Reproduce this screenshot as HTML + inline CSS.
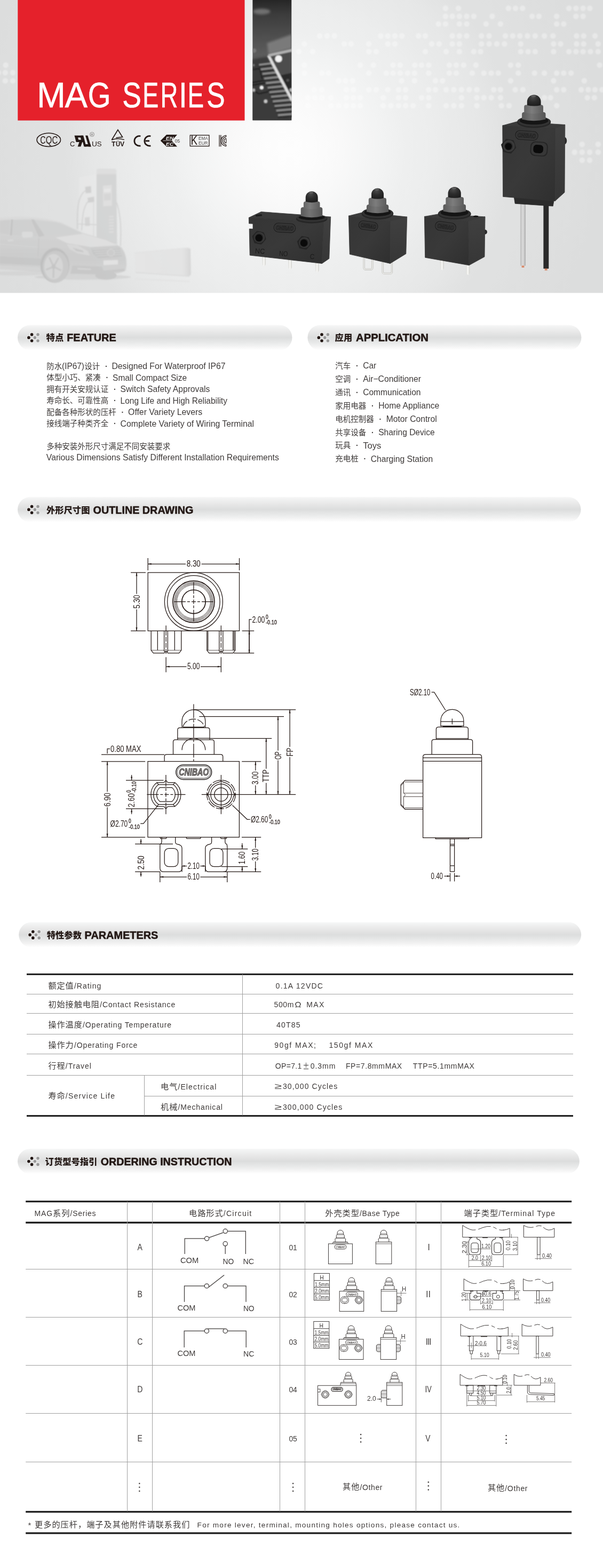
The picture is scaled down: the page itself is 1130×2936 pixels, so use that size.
<!DOCTYPE html>
<html lang="zh">
<head>
<meta charset="utf-8">
<title>MAG SERIES</title>
<style>
html,body{margin:0;padding:0;background:#fff;}
body{width:1130px;height:2936px;overflow:hidden;}
svg{display:block;will-change:transform;font-family:'Liberation Sans','Noto Sans CJK SC',sans-serif;}
text{white-space:pre;}
</style>
</head>
<body>
<svg width="1130" height="2936" viewBox="0 0 1130 2936">
<defs>

<radialGradient id="hbg" gradientUnits="userSpaceOnUse" cx="540" cy="280" r="620" fx="540" fy="280">
<stop offset="0" stop-color="#fdfdfd"/><stop offset="0.075" stop-color="#fcfcfc"/><stop offset="0.16" stop-color="#f9f9f9"/><stop offset="0.29" stop-color="#f2f3f3"/><stop offset="0.36" stop-color="#eeefef"/><stop offset="0.44" stop-color="#eceded"/><stop offset="0.48" stop-color="#eaebeb"/><stop offset="0.585" stop-color="#e6e7e7"/><stop offset="0.68" stop-color="#e0e1e1"/><stop offset="0.73" stop-color="#e0e1e1"/><stop offset="0.95" stop-color="#dcdddd"/><stop offset="1" stop-color="#dcdddd"/></radialGradient>
<linearGradient id="boot" x1="0" y1="0" x2="1" y2="0"><stop offset="0" stop-color="#5a5a5a"/><stop offset=".4" stop-color="#747474"/><stop offset="1" stop-color="#555"/></linearGradient>
<linearGradient id="boot2" x1="0" y1="0" x2="1" y2="0"><stop offset="0" stop-color="#666"/><stop offset=".4" stop-color="#7d7d7d"/><stop offset="1" stop-color="#5c5c5c"/></linearGradient>
<radialGradient id="dome" cx=".42" cy=".25" r=".8"><stop offset="0" stop-color="#4a4a4a"/><stop offset=".5" stop-color="#2c2c2c"/><stop offset="1" stop-color="#1c1c1c"/></radialGradient>
<linearGradient id="bodyF" x1="0" y1="0" x2="1" y2="1"><stop offset="0" stop-color="#353535"/><stop offset=".5" stop-color="#393939"/><stop offset="1" stop-color="#2f2f2f"/></linearGradient>
<linearGradient id="bodyS" x1="0" y1="0" x2="0" y2="1"><stop offset="0" stop-color="#404040"/><stop offset="1" stop-color="#363636"/></linearGradient>
<linearGradient id="pcb" x1="0" y1="0" x2="0" y2="1"><stop offset="0" stop-color="#262626"/><stop offset=".12" stop-color="#3c3c3c"/><stop offset=".3" stop-color="#4e4e4e"/><stop offset=".45" stop-color="#5c5c5c"/><stop offset=".6" stop-color="#555"/><stop offset=".85" stop-color="#474747"/><stop offset="1" stop-color="#3a3a3a"/></linearGradient>
<linearGradient id="pin" x1="0" y1="0" x2="1" y2="0"><stop offset="0" stop-color="#d8d8d4"/><stop offset=".5" stop-color="#fafaf8"/><stop offset="1" stop-color="#cfcfcb"/></linearGradient>
<linearGradient id="wire" x1="0" y1="0" x2="1" y2="0"><stop offset="0" stop-color="#bdbdbd"/><stop offset=".5" stop-color="#dcdcdc"/><stop offset="1" stop-color="#adadad"/></linearGradient>
<linearGradient id="car" x1="0" y1="0" x2="0" y2="1"><stop offset="0" stop-color="#d6d6d6"/><stop offset=".35" stop-color="#cdcdcd"/><stop offset=".7" stop-color="#c6c6c6"/><stop offset="1" stop-color="#cecece"/></linearGradient>
<linearGradient id="ac" x1="0" y1="0" x2="1" y2="0"><stop offset="0" stop-color="#e4e4e4"/><stop offset=".85" stop-color="#e1e1e1"/><stop offset=".95" stop-color="#d6d6d6"/><stop offset="1" stop-color="#cccccc"/></linearGradient>
<filter id="b1" x="-10%" y="-10%" width="120%" height="120%"><feGaussianBlur stdDeviation="0.8"/></filter>
<filter id="b2" x="-20%" y="-20%" width="140%" height="140%"><feGaussianBlur stdDeviation="2"/></filter>
<filter id="b3" x="-30%" y="-30%" width="160%" height="160%"><feGaussianBlur stdDeviation="4"/></filter>
<clipPath id="pcbclip"><rect x="473.2" y="0" width="73.3" height="225.5"/></clipPath>
<clipPath id="heroclip"><rect x="0" y="0" width="1130" height="548.5"/></clipPath>
<linearGradient id="pillg" x1="0" y1="0" x2="0" y2="1">
<stop offset="0" stop-color="#f8f8f8"/><stop offset=".05" stop-color="#f3f4f4"/><stop offset=".25" stop-color="#e9e9e9"/><stop offset=".5" stop-color="#dcdddd"/><stop offset=".7" stop-color="#e8e9e9"/><stop offset=".85" stop-color="#f3f3f3"/><stop offset="1" stop-color="#ffffff"/></linearGradient>
</defs>
<g id="hero" clip-path="url(#heroclip)">
<rect x="0.00" y="0.00" width="1130.00" height="549.00" fill="url(#hbg)" />
<g fill="#fff" opacity=".34" filter="url(#b1)">
<circle cx="834.93" cy="15.53" r="5.20" fill="#fff" />
<circle cx="859.09" cy="15.53" r="5.20" fill="#fff" />
<circle cx="952.84" cy="15.53" r="5.20" fill="#fff" />
<circle cx="966.07" cy="15.53" r="5.20" fill="#fff" />
<circle cx="979.30" cy="15.53" r="5.20" fill="#fff" />
<circle cx="1066.15" cy="15.53" r="5.20" fill="#fff" />
<circle cx="1079.38" cy="15.53" r="5.20" fill="#fff" />
<circle cx="1092.61" cy="15.53" r="5.20" fill="#fff" />
<circle cx="1105.27" cy="15.53" r="5.20" fill="#fff" />
<circle cx="834.93" cy="30.48" r="5.20" fill="#fff" />
<circle cx="847.59" cy="30.48" r="5.20" fill="#fff" />
<circle cx="860.82" cy="30.48" r="5.20" fill="#fff" />
<circle cx="874.62" cy="30.48" r="5.20" fill="#fff" />
<circle cx="887.85" cy="30.48" r="5.20" fill="#fff" />
<circle cx="922.36" cy="30.48" r="5.20" fill="#fff" />
<circle cx="997.13" cy="30.48" r="5.20" fill="#fff" />
<circle cx="1009.79" cy="30.48" r="5.20" fill="#fff" />
<circle cx="1043.15" cy="30.48" r="5.20" fill="#fff" />
<circle cx="1079.38" cy="30.48" r="5.20" fill="#fff" />
<circle cx="1092.61" cy="30.48" r="5.20" fill="#fff" />
<circle cx="821.70" cy="44.86" r="5.20" fill="#fff" />
<circle cx="834.93" cy="44.86" r="5.20" fill="#fff" />
<circle cx="860.82" cy="44.86" r="5.20" fill="#fff" />
<circle cx="874.62" cy="44.86" r="5.20" fill="#fff" />
<circle cx="910.86" cy="44.86" r="5.20" fill="#fff" />
<circle cx="937.89" cy="44.86" r="5.20" fill="#fff" />
<circle cx="1043.15" cy="44.86" r="5.20" fill="#fff" />
<circle cx="1056.38" cy="44.86" r="5.20" fill="#fff" />
<circle cx="599.11" cy="67.30" r="5.20" fill="#fff" />
<circle cx="612.92" cy="67.30" r="5.20" fill="#fff" />
<circle cx="626.72" cy="67.30" r="5.20" fill="#fff" />
<circle cx="713.57" cy="67.30" r="5.20" fill="#fff" />
<circle cx="726.80" cy="67.30" r="5.20" fill="#fff" />
<circle cx="740.03" cy="67.30" r="5.20" fill="#fff" />
<circle cx="753.26" cy="67.30" r="5.20" fill="#fff" />
<circle cx="784.32" cy="67.30" r="5.20" fill="#fff" />
<circle cx="796.97" cy="67.30" r="5.20" fill="#fff" />
<circle cx="847.59" cy="67.30" r="5.20" fill="#fff" />
<circle cx="860.82" cy="67.30" r="5.20" fill="#fff" />
<circle cx="874.62" cy="67.30" r="5.20" fill="#fff" />
<circle cx="902.23" cy="67.30" r="5.20" fill="#fff" />
<circle cx="916.61" cy="67.30" r="5.20" fill="#fff" />
<circle cx="947.09" cy="67.30" r="5.20" fill="#fff" />
<circle cx="960.90" cy="67.30" r="5.20" fill="#fff" />
<circle cx="974.13" cy="67.30" r="5.20" fill="#fff" />
<circle cx="988.51" cy="67.30" r="5.20" fill="#fff" />
<circle cx="1002.89" cy="67.30" r="5.20" fill="#fff" />
<circle cx="1020.14" cy="67.30" r="5.20" fill="#fff" />
<circle cx="1036.25" cy="67.30" r="5.20" fill="#fff" />
<circle cx="1080.53" cy="67.30" r="5.20" fill="#fff" />
<circle cx="1093.76" cy="67.30" r="5.20" fill="#fff" />
<circle cx="1115.04" cy="67.30" r="5.20" fill="#fff" />
<circle cx="570.35" cy="82.25" r="5.20" fill="#fff" />
<circle cx="645.13" cy="82.25" r="5.20" fill="#fff" />
<circle cx="657.78" cy="82.25" r="5.20" fill="#fff" />
<circle cx="691.14" cy="82.25" r="5.20" fill="#fff" />
<circle cx="726.80" cy="82.25" r="5.20" fill="#fff" />
<circle cx="740.03" cy="82.25" r="5.20" fill="#fff" />
<circle cx="809.05" cy="82.25" r="5.20" fill="#fff" />
<circle cx="822.86" cy="82.25" r="5.20" fill="#fff" />
<circle cx="847.59" cy="82.25" r="5.20" fill="#fff" />
<circle cx="860.82" cy="82.25" r="5.20" fill="#fff" />
<circle cx="902.23" cy="82.25" r="5.20" fill="#fff" />
<circle cx="916.61" cy="82.25" r="5.20" fill="#fff" />
<circle cx="930.99" cy="82.25" r="5.20" fill="#fff" />
<circle cx="945.37" cy="82.25" r="5.20" fill="#fff" />
<circle cx="975.85" cy="82.25" r="5.20" fill="#fff" />
<circle cx="1037.40" cy="82.25" r="5.20" fill="#fff" />
<circle cx="1050.62" cy="82.25" r="5.20" fill="#fff" />
<circle cx="1080.53" cy="82.25" r="5.20" fill="#fff" />
<circle cx="1093.76" cy="82.25" r="5.20" fill="#fff" />
<circle cx="1120.80" cy="82.25" r="5.20" fill="#fff" />
<circle cx="560.00" cy="96.63" r="5.20" fill="#fff" />
<circle cx="585.88" cy="96.63" r="5.20" fill="#fff" />
<circle cx="691.14" cy="96.63" r="5.20" fill="#fff" />
<circle cx="704.94" cy="96.63" r="5.20" fill="#fff" />
<circle cx="796.97" cy="96.63" r="5.20" fill="#fff" />
<circle cx="836.08" cy="96.63" r="5.20" fill="#fff" />
<circle cx="860.82" cy="96.63" r="5.20" fill="#fff" />
<circle cx="887.85" cy="96.63" r="5.20" fill="#fff" />
<circle cx="900.50" cy="96.63" r="5.20" fill="#fff" />
<circle cx="975.85" cy="96.63" r="5.20" fill="#fff" />
<circle cx="989.66" cy="96.63" r="5.20" fill="#fff" />
<circle cx="1002.89" cy="96.63" r="5.20" fill="#fff" />
<circle cx="1037.40" cy="96.63" r="5.20" fill="#fff" />
<circle cx="1066.15" cy="96.63" r="5.20" fill="#fff" />
<circle cx="1079.38" cy="96.63" r="5.20" fill="#fff" />
<circle cx="1092.61" cy="96.63" r="5.20" fill="#fff" />
<circle cx="1106.42" cy="96.63" r="5.20" fill="#fff" />
<circle cx="1120.80" cy="96.63" r="5.20" fill="#fff" />
<circle cx="570.35" cy="121.94" r="5.20" fill="#fff" />
<circle cx="675.04" cy="121.94" r="5.20" fill="#fff" />
<circle cx="699.77" cy="121.94" r="5.20" fill="#fff" />
<circle cx="736.58" cy="121.94" r="5.20" fill="#fff" />
<circle cx="749.81" cy="121.94" r="5.20" fill="#fff" />
<circle cx="777.42" cy="121.94" r="5.20" fill="#fff" />
<circle cx="790.07" cy="121.94" r="5.20" fill="#fff" />
<circle cx="803.30" cy="121.94" r="5.20" fill="#fff" />
<circle cx="841.84" cy="121.94" r="5.20" fill="#fff" />
<circle cx="855.06" cy="121.94" r="5.20" fill="#fff" />
<circle cx="868.87" cy="121.94" r="5.20" fill="#fff" />
<circle cx="891.88" cy="121.94" r="5.20" fill="#fff" />
<circle cx="956.87" cy="121.94" r="5.20" fill="#fff" />
<circle cx="971.25" cy="121.94" r="5.20" fill="#fff" />
<circle cx="1123.67" cy="121.94" r="5.20" fill="#fff" />
<circle cx="570.35" cy="136.89" r="5.20" fill="#fff" />
<circle cx="603.14" cy="136.89" r="5.20" fill="#fff" />
<circle cx="615.79" cy="136.89" r="5.20" fill="#fff" />
<circle cx="691.14" cy="136.89" r="5.20" fill="#fff" />
<circle cx="723.92" cy="136.89" r="5.20" fill="#fff" />
<circle cx="736.58" cy="136.89" r="5.20" fill="#fff" />
<circle cx="749.81" cy="136.89" r="5.20" fill="#fff" />
<circle cx="763.61" cy="136.89" r="5.20" fill="#fff" />
<circle cx="776.84" cy="136.89" r="5.20" fill="#fff" />
<circle cx="803.30" cy="136.89" r="5.20" fill="#fff" />
<circle cx="841.84" cy="136.89" r="5.20" fill="#fff" />
<circle cx="855.06" cy="136.89" r="5.20" fill="#fff" />
<circle cx="884.97" cy="136.89" r="5.20" fill="#fff" />
<circle cx="906.83" cy="136.89" r="5.20" fill="#fff" />
<circle cx="920.63" cy="136.89" r="5.20" fill="#fff" />
<circle cx="933.86" cy="136.89" r="5.20" fill="#fff" />
<circle cx="971.25" cy="136.89" r="5.20" fill="#fff" />
<circle cx="1001.73" cy="136.89" r="5.20" fill="#fff" />
<circle cx="1020.14" cy="136.89" r="5.20" fill="#fff" />
<circle cx="1043.15" cy="136.89" r="5.20" fill="#fff" />
<circle cx="1056.38" cy="136.89" r="5.20" fill="#fff" />
<circle cx="1070.18" cy="136.89" r="5.20" fill="#fff" />
<circle cx="634.77" cy="151.27" r="5.20" fill="#fff" />
<circle cx="647.43" cy="151.27" r="5.20" fill="#fff" />
<circle cx="660.66" cy="151.27" r="5.20" fill="#fff" />
<circle cx="752.68" cy="151.27" r="5.20" fill="#fff" />
<circle cx="776.84" cy="151.27" r="5.20" fill="#fff" />
<circle cx="815.95" cy="151.27" r="5.20" fill="#fff" />
<circle cx="829.18" cy="151.27" r="5.20" fill="#fff" />
<circle cx="956.87" cy="151.27" r="5.20" fill="#fff" />
<circle cx="1037.40" cy="151.27" r="5.20" fill="#fff" />
<circle cx="1094.91" cy="151.27" r="5.20" fill="#fff" />
<circle cx="588.76" cy="167.95" r="5.20" fill="#fff" />
<circle cx="603.14" cy="167.95" r="5.20" fill="#fff" />
<circle cx="649.15" cy="167.95" r="5.20" fill="#fff" />
<circle cx="662.38" cy="167.95" r="5.20" fill="#fff" />
<circle cx="691.14" cy="167.95" r="5.20" fill="#fff" />
<circle cx="704.94" cy="167.95" r="5.20" fill="#fff" />
<circle cx="726.80" cy="167.95" r="5.20" fill="#fff" />
<circle cx="746.93" cy="167.95" r="5.20" fill="#fff" />
<circle cx="760.16" cy="167.95" r="5.20" fill="#fff" />
<circle cx="803.30" cy="167.95" r="5.20" fill="#fff" />
<circle cx="815.95" cy="167.95" r="5.20" fill="#fff" />
<circle cx="836.08" cy="167.95" r="5.20" fill="#fff" />
<circle cx="850.46" cy="167.95" r="5.20" fill="#fff" />
<circle cx="864.84" cy="167.95" r="5.20" fill="#fff" />
<circle cx="879.22" cy="167.95" r="5.20" fill="#fff" />
<circle cx="893.60" cy="167.95" r="5.20" fill="#fff" />
<circle cx="925.24" cy="167.95" r="5.20" fill="#fff" />
<circle cx="937.89" cy="167.95" r="5.20" fill="#fff" />
<circle cx="965.50" cy="167.95" r="5.20" fill="#fff" />
<circle cx="979.88" cy="167.95" r="5.20" fill="#fff" />
<circle cx="1043.15" cy="167.95" r="5.20" fill="#fff" />
<circle cx="1056.38" cy="167.95" r="5.20" fill="#fff" />
<circle cx="1089.16" cy="167.95" r="5.20" fill="#fff" />
<circle cx="1102.39" cy="167.95" r="5.20" fill="#fff" />
<circle cx="1115.04" cy="167.95" r="5.20" fill="#fff" />
<circle cx="1128.27" cy="167.95" r="5.20" fill="#fff" />
<circle cx="577.26" cy="182.91" r="5.20" fill="#fff" />
<circle cx="589.91" cy="182.91" r="5.20" fill="#fff" />
<circle cx="603.14" cy="182.91" r="5.20" fill="#fff" />
<circle cx="620.39" cy="182.91" r="5.20" fill="#fff" />
<circle cx="649.15" cy="182.91" r="5.20" fill="#fff" />
<circle cx="662.38" cy="182.91" r="5.20" fill="#fff" />
<circle cx="675.04" cy="182.91" r="5.20" fill="#fff" />
<circle cx="718.17" cy="182.91" r="5.20" fill="#fff" />
<circle cx="746.93" cy="182.91" r="5.20" fill="#fff" />
<circle cx="760.16" cy="182.91" r="5.20" fill="#fff" />
<circle cx="790.07" cy="182.91" r="5.20" fill="#fff" />
<circle cx="803.30" cy="182.91" r="5.20" fill="#fff" />
<circle cx="864.84" cy="182.91" r="5.20" fill="#fff" />
<circle cx="893.60" cy="182.91" r="5.20" fill="#fff" />
<circle cx="906.83" cy="182.91" r="5.20" fill="#fff" />
<circle cx="920.63" cy="182.91" r="5.20" fill="#fff" />
<circle cx="937.89" cy="182.91" r="5.20" fill="#fff" />
<circle cx="1020.14" cy="182.91" r="5.20" fill="#fff" />
<circle cx="1031.64" cy="182.91" r="5.20" fill="#fff" />
<circle cx="1100.66" cy="182.91" r="5.20" fill="#fff" />
<circle cx="1113.89" cy="182.91" r="5.20" fill="#fff" />
<circle cx="577.26" cy="197.86" r="5.20" fill="#fff" />
<circle cx="620.39" cy="197.86" r="5.20" fill="#fff" />
<circle cx="634.77" cy="197.86" r="5.20" fill="#fff" />
<circle cx="649.15" cy="197.86" r="5.20" fill="#fff" />
<circle cx="662.38" cy="197.86" r="5.20" fill="#fff" />
<circle cx="675.04" cy="197.86" r="5.20" fill="#fff" />
<circle cx="718.17" cy="197.86" r="5.20" fill="#fff" />
<circle cx="732.55" cy="197.86" r="5.20" fill="#fff" />
<circle cx="746.93" cy="197.86" r="5.20" fill="#fff" />
<circle cx="760.16" cy="197.86" r="5.20" fill="#fff" />
<circle cx="773.97" cy="197.86" r="5.20" fill="#fff" />
<circle cx="803.30" cy="197.86" r="5.20" fill="#fff" />
<circle cx="836.08" cy="197.86" r="5.20" fill="#fff" />
<circle cx="850.46" cy="197.86" r="5.20" fill="#fff" />
<circle cx="864.84" cy="197.86" r="5.20" fill="#fff" />
<circle cx="893.60" cy="197.86" r="5.20" fill="#fff" />
<circle cx="939.62" cy="197.86" r="5.20" fill="#fff" />
<circle cx="954.00" cy="197.86" r="5.20" fill="#fff" />
<circle cx="1043.15" cy="197.86" r="5.20" fill="#fff" />
<circle cx="10.70" cy="122.00" r="5.20" fill="#fff" />
<circle cx="9.90" cy="136.00" r="5.20" fill="#fff" />
<circle cx="24.00" cy="136.00" r="5.20" fill="#fff" />
<circle cx="9.90" cy="151.40" r="5.20" fill="#fff" />
<circle cx="24.00" cy="151.40" r="5.20" fill="#fff" />
<circle cx="-3.00" cy="136.00" r="5.20" fill="#fff" />
<circle cx="1090.80" cy="270.20" r="5.20" fill="#fff" />
<circle cx="1120.90" cy="270.20" r="5.20" fill="#fff" />
<circle cx="1076.70" cy="285.00" r="5.20" fill="#fff" />
<circle cx="1090.80" cy="285.00" r="5.20" fill="#fff" />
<circle cx="1105.00" cy="285.00" r="5.20" fill="#fff" />
<circle cx="1120.90" cy="285.00" r="5.20" fill="#fff" />
<circle cx="1090.80" cy="300.00" r="5.20" fill="#fff" />
<circle cx="1105.00" cy="300.00" r="5.20" fill="#fff" />
</g>
<rect x="33.30" y="0.00" width="425.20" height="225.60" fill="#e5212b" />
<text y="200.70" font-size="66.6" fill="#fff" stroke="#fff" stroke-width="0.6"><tspan x="69.10" textLength="53.80" lengthAdjust="spacingAndGlyphs">M</tspan><tspan x="121.38" textLength="42.55" lengthAdjust="spacingAndGlyphs">A</tspan><tspan x="164.64" textLength="42.65" lengthAdjust="spacingAndGlyphs">G</tspan> <tspan x="229.28" textLength="35.57" lengthAdjust="spacingAndGlyphs">S</tspan><tspan x="267.22" textLength="29.90" lengthAdjust="spacingAndGlyphs">E</tspan><tspan x="300.57" textLength="32.84" lengthAdjust="spacingAndGlyphs">R</tspan><tspan x="335.35" textLength="15.19" lengthAdjust="spacingAndGlyphs">I</tspan><tspan x="351.45" textLength="30.52" lengthAdjust="spacingAndGlyphs">E</tspan><tspan x="387.16" textLength="34.41" lengthAdjust="spacingAndGlyphs">S</tspan></text>
<g clip-path="url(#pcbclip)">
<rect x="473.20" y="0.00" width="73.30" height="225.50" fill="url(#pcb)" />
<g filter="url(#b2)">
<ellipse cx="490.3" cy="21.7" rx="16" ry="5.5" fill="#6f6f6f"/>
<polygon points="500.4,80.7 546.5,64.6 546.5,90.8 503.4,101.9" fill="#7a7a7a" />
<polygon points="473.1,111.0 502.4,106.0 546.5,191.7 546.5,225.5 473.1,225.5" fill="#3b3b3b" />
</g>
<g filter="url(#b1)">
<polygon points="504.4,104.9 546.5,96.9 546.5,183.7" fill="#4d4d4d" />
<polygon points="524.6,141.3 546.5,136.2 546.5,183.7" fill="#2b2b2b" />
<line x1="485.2" y1="121.3" x2="510.5" y2="118.3" stroke="#8e8e8e" stroke-width="3.6"/>
<line x1="485.2" y1="125.1" x2="512.0" y2="122.3" stroke="#2a2a2a" stroke-width="2.4"/>
<line x1="488.5" y1="129.9" x2="514.7" y2="126.8" stroke="#8e8e8e" stroke-width="3.6"/>
<line x1="488.5" y1="133.7" x2="516.2" y2="130.9" stroke="#2a2a2a" stroke-width="2.4"/>
<line x1="491.7" y1="138.4" x2="518.9" y2="135.4" stroke="#8e8e8e" stroke-width="3.6"/>
<line x1="491.7" y1="142.3" x2="520.4" y2="139.5" stroke="#2a2a2a" stroke-width="2.4"/>
<line x1="494.9" y1="147.0" x2="523.2" y2="144.0" stroke="#8e8e8e" stroke-width="3.6"/>
<line x1="494.9" y1="150.9" x2="524.7" y2="148.0" stroke="#2a2a2a" stroke-width="2.4"/>
<line x1="498.1" y1="155.6" x2="527.4" y2="152.6" stroke="#8e8e8e" stroke-width="3.6"/>
<line x1="498.1" y1="159.4" x2="528.9" y2="156.6" stroke="#2a2a2a" stroke-width="2.4"/>
<line x1="501.4" y1="164.2" x2="531.6" y2="161.2" stroke="#8e8e8e" stroke-width="3.6"/>
<line x1="501.4" y1="168.0" x2="533.2" y2="165.2" stroke="#2a2a2a" stroke-width="2.4"/>
<line x1="504.6" y1="172.8" x2="535.9" y2="169.7" stroke="#8e8e8e" stroke-width="3.6"/>
<line x1="504.6" y1="176.6" x2="537.4" y2="173.8" stroke="#2a2a2a" stroke-width="2.4"/>
<line x1="507.8" y1="181.3" x2="540.1" y2="178.3" stroke="#8e8e8e" stroke-width="3.6"/>
<line x1="507.8" y1="185.2" x2="541.6" y2="182.3" stroke="#2a2a2a" stroke-width="2.4"/>
<line x1="511.1" y1="189.9" x2="544.4" y2="186.9" stroke="#8e8e8e" stroke-width="3.6"/>
<line x1="511.1" y1="193.7" x2="545.9" y2="190.9" stroke="#2a2a2a" stroke-width="2.4"/>
<line x1="514.3" y1="198.5" x2="548.6" y2="195.5" stroke="#8e8e8e" stroke-width="3.6"/>
<line x1="514.3" y1="202.3" x2="550.1" y2="199.5" stroke="#2a2a2a" stroke-width="2.4"/>
<line x1="517.5" y1="207.1" x2="552.8" y2="204.0" stroke="#8e8e8e" stroke-width="3.6"/>
<line x1="517.5" y1="210.9" x2="554.3" y2="208.1" stroke="#2a2a2a" stroke-width="2.4"/>
<line x1="520.7" y1="215.6" x2="557.1" y2="212.6" stroke="#8e8e8e" stroke-width="3.6"/>
<line x1="520.7" y1="219.5" x2="558.6" y2="216.6" stroke="#2a2a2a" stroke-width="2.4"/>
<path d="M473.1,154.4 L496.3,150.4 M473.1,159.4 L497.3,155.4 M478.2,171.5 L485.2,175.6 L503.4,171.5 L508.4,167.5 M474.1,130.2 L487.2,128.2 L491.3,148.3" fill="none" stroke="#1c1c1c" stroke-width="1.6" />
<line x1="502.9" y1="103.9" x2="547.8" y2="188.7" stroke="#dedede" stroke-width="5.2"/>
<line x1="502.9" y1="103.9" x2="547.8" y2="93.8" stroke="#b0b0b0" stroke-width="5"/>
<circle cx="522.06" cy="109.99" r="6.60" fill="#f4f4f4" />
<circle cx="490.27" cy="163.98" r="3.80" fill="#f0f0f0" />
<circle cx="497.84" cy="189.71" r="3.60" fill="#c4c4c4" />
<circle cx="475.14" cy="168.72" r="3.20" fill="#b5b5b5" />
<circle cx="545.77" cy="168.52" r="3.20" fill="#b9b9b9" />
<circle cx="476.15" cy="94.85" r="4.20" fill="#777" />
<circle cx="539.21" cy="150.35" r="2.60" fill="#555" />
<circle cx="475.14" cy="122.10" r="2.40" fill="#777" />
</g>
</g>
<g id="certs">
<ellipse cx="91.3" cy="261.9" rx="22.2" ry="12.6" fill="none" stroke="#231815" stroke-width="1.6"/>
<text y="268.90" font-size="19.6" fill="#231815"><tspan x="75.17" textLength="10.38" lengthAdjust="spacingAndGlyphs">C</tspan><tspan x="85.69" textLength="11.62" lengthAdjust="spacingAndGlyphs">Q</tspan><tspan x="97.45" textLength="10.72" lengthAdjust="spacingAndGlyphs">C</tspan></text>
<text y="274.00" font-size="12.6" fill="#231815"><tspan x="131.14" textLength="9.35" lengthAdjust="spacingAndGlyphs">C</tspan></text>
<polygon points="139.5,253.7 155.5,253.7 158.8,266.0 142.7,266.0" fill="#231815" />
<polygon points="146.0,257.4 150.9,257.4 152.1,261.8 147.3,261.8" fill="#e4e4e4" />
<polygon points="148.7,265.7 154.3,265.7 151.3,274.4 145.6,274.4" fill="#231815" />
<polygon points="151.8,253.7 156.1,253.7 161.6,274.4 157.4,274.4" fill="#231815" />
<polygon points="158.2,270.1 169.4,270.1 170.6,274.4 159.3,274.4" fill="#231815" />
<polygon points="160.0,253.7 164.3,253.7 170.6,274.4 166.2,274.4" fill="#231815" />
<circle cx="172.50" cy="251.60" r="4.00" fill="none" stroke="#6f6b6a" stroke-width="0.7" />
<text x="172.50" y="253.90" font-size="6.2" fill="#6f6b6a" text-anchor="middle">R</text>
<text y="274.00" font-size="12.6" fill="#231815"><tspan x="172.14" textLength="9.92" lengthAdjust="spacingAndGlyphs">U</tspan><tspan x="181.80" textLength="8.81" lengthAdjust="spacingAndGlyphs">S</tspan></text>
<path d="M209.5,261.8 L220.9,243.0 L229.5,256.6 L217.3,258.0" fill="none" stroke="#231815" stroke-width="1.7" stroke-linejoin="miter"/>
<path d="M209.1,262.0 C217.3,259.1 224.5,259.1 232.9,261.6" fill="none" stroke="#231815" stroke-width="1.5" />
<text y="274.30" font-size="12.2" fill="#231815" font-weight="bold"><tspan x="209.06" textLength="7.47" lengthAdjust="spacingAndGlyphs">T</tspan><tspan x="216.92" textLength="8.17" lengthAdjust="spacingAndGlyphs">U</tspan><tspan x="225.12" textLength="8.17" lengthAdjust="spacingAndGlyphs">V</tspan></text>
<rect x="219.20" y="263.60" width="1.20" height="1.20" fill="#231815" />
<rect x="221.80" y="263.60" width="1.20" height="1.20" fill="#231815" />
<path d="M263.4,255.0 A9.2,9.2 0 1 0 263.4,272.8" fill="none" stroke="#231815" stroke-width="2.8" />
<path d="M282.4,255.0 A9.2,9.2 0 1 0 282.4,272.8 M272.6,263.9 L280.0,263.9" fill="none" stroke="#231815" stroke-width="2.8" />
<polygon points="300.7,263.5 312.0,252.2 332.0,252.2 321.8,263.5 332.0,274.5 312.0,274.5" fill="#231815" />
<path d="M305.6,263.5 L324.0,263.5" fill="none" stroke="#e6e6e6" stroke-width="0.8" />
<text x="310.8" y="261.8" font-size="9.4" font-weight="bold" font-style="italic" fill="#ededed" textLength="14.6" lengthAdjust="spacingAndGlyphs" transform="rotate(0)">EN</text>
<text x="310.8" y="272.8" font-size="9.4" font-weight="bold" font-style="italic" fill="#ededed" textLength="14.6" lengthAdjust="spacingAndGlyphs">EC</text>
<text x="327.80" y="267.40" font-size="9.4" fill="#4a4645" textLength="9.40" lengthAdjust="spacingAndGlyphs">05</text>
<rect x="356.30" y="253.20" width="35.60" height="20.40" fill="none" stroke="#231815" stroke-width="1.3" />
<text y="271.40" font-size="23.2" fill="#231815"><tspan x="357.46" textLength="12.56" lengthAdjust="spacingAndGlyphs">K</tspan></text>
<text x="372.10" y="262.10" font-size="8.6" fill="#4a4645" textLength="17.40" lengthAdjust="spacingAndGlyphs">EMA</text>
<text x="372.10" y="271.00" font-size="8.6" fill="#4a4645" textLength="17.40" lengthAdjust="spacingAndGlyphs">EUR</text>
<path d="M411.1,252.7 L411.1,274.5 M413.8,252.7 L413.8,274.5" fill="none" stroke="#231815" stroke-width="1.3" />
<path d="M423.8,253.3 Q414.4,255.4 414.1,263.5 Q414.4,271.7 423.8,273.9" fill="none" stroke="#231815" stroke-width="1.3" />
<path d="M423.8,256.1 Q417.3,257.5 417.1,263.5 Q417.3,269.5 423.8,271.1" fill="none" stroke="#231815" stroke-width="1.3" />
<path d="M423.8,259.2 Q420.2,260.1 420.0,263.5 Q420.2,266.9 423.8,268.0" fill="none" stroke="#231815" stroke-width="1.3" />
<path d="M423.8,253.3 L423.8,256.1 M423.8,271.1 L423.8,273.9 M423.8,259.2 L423.8,268.0" fill="none" stroke="#231815" stroke-width="1.1" />
</g>
<g id="scenery" filter="url(#b1)" opacity=".74">
<polygon points="148.2,332.0 181.0,325.7 181.0,445.9 148.2,431.2" fill="#ebebeb" opacity=".55"/>
<path d="M181.0,319.7 Q181.0,316.3 185.0,316.3 L213.8,316.3 Q217.8,316.3 217.8,320.5 L219.3,457.4 L181.0,444.8 Z" fill="#cdcece" />
<polygon points="181.0,316.8 217.8,316.8 217.8,326.2 181.0,326.2" fill="#dfdfdf" opacity=".8"/>
<polygon points="192.8,347.8 209.4,346.2 209.9,385.3 193.4,386.6" fill="#dcdcdc" />
<polygon points="194.7,353.8 207.3,352.7 207.3,359.0 194.9,359.8" fill="#e6e6e6" />
<polygon points="194.7,363.0 207.3,361.9 207.3,374.8 194.9,375.6" fill="#d0d0d0" />
<polygon points="204.1,404.4 213.0,403.9 213.0,406.5 204.1,407.0" fill="#dadada" />
<polygon points="204.1,410.2 213.0,409.7 213.0,412.3 204.1,412.8" fill="#dadada" />
<polygon points="204.1,416.0 213.0,415.4 213.0,418.1 204.1,418.6" fill="#dadada" />
<polygon points="204.1,421.7 213.0,421.2 213.0,423.8 204.1,424.4" fill="#dadada" />
<polygon points="204.1,427.5 213.0,427.0 213.0,429.6 204.1,430.1" fill="#dadada" />
<polygon points="204.1,433.3 213.0,432.8 213.0,435.4 204.1,435.9" fill="#dadada" />
<path d="M161.4,356.4 C143.0,365.6 144.8,404.9 144.8,428.6" fill="none" stroke="#c6c6c6" stroke-width="1.5" />
<path d="M170.5,372.2 C153.5,384.0 154.8,410.2 153.0,431.2" fill="none" stroke="#c6c6c6" stroke-width="1.5" />
<path d="M218.3,378.7 C227.7,404.9 227.2,436.4 225.6,460.6" fill="none" stroke="#c6c6c6" stroke-width="1.5" />
<polygon points="159.5,349.8 170.5,348.5 171.1,360.9 160.6,361.9" fill="#c9c9c9" />
<polygon points="164.0,370.3 176.3,368.2 176.8,378.2 165.3,379.5" fill="#cbcbcb" />
<polygon points="158.7,407.6 167.9,406.3 168.4,422.8 159.5,423.3" fill="#d0d0d0" />
<path d="M146.4,419.4 L181.0,420.7" fill="none" stroke="#c8c8c8" stroke-width="1.4" />
<path d="M175.3,378.7 L175.3,441.7" fill="none" stroke="#d2d2d2" stroke-width="1.2" />
<polygon points="252.3,473.7 351.2,464.1 356.8,465.7 357.6,514.1 354.4,517.3 254.3,510.1" fill="url(#ac)" />
<path d="M252.3,473.7 L351.2,464.1 L356.8,465.7" fill="none" stroke="#dcdcdc" stroke-width="1" />
<path d="M254.3,510.1 L354.4,517.3" fill="none" stroke="#d2d2d2" stroke-width="1.2" />
<path d="M253.5,522.2 L355.2,527.0" fill="none" stroke="#e2e2e2" stroke-width="2" />
<ellipse cx="155.0" cy="518.7" rx="90" ry="5" fill="#c9c9c9" opacity=".7"/>
<ellipse cx="36.3" cy="511.9" rx="50" ry="4" fill="#cdcdcd" opacity=".7"/>
<path d="M-1.2,408.5 L29.1,406.3 C63.0,405.8 92.0,409.7 113.8,416.5 L155.0,436.8 C184.1,443.6 213.1,453.8 227.7,463.5 C234.4,472.7 237.3,482.3 236.9,496.9 L235.4,506.6 C225.2,513.3 198.6,515.8 179.2,514.8 L130.8,514.3 L77.5,509.5 L-1.2,504.1 Z" fill="url(#car)" />
<path d="M-1.2,408.5 L29.1,406.3 C63.0,405.8 92.0,409.7 113.8,416.5 L106.6,417.0 C79.9,410.2 55.7,409.2 -1.2,412.1 Z" fill="#d9d9d9" />
<polygon points="63.5,411.6 106.6,416.0 155.0,436.8 125.9,439.2 87.2,441.2 72.7,429.1" fill="#cccdcd" />
<polygon points="-1.2,413.3 19.4,411.6 17.0,438.8 -1.2,436.3" fill="#c9c9c9" />
<polygon points="24.2,411.6 56.9,411.1 69.0,429.1 69.0,442.4 23.0,440.0" fill="#cbcbcb" />
<polygon points="20.8,411.1 24.2,411.1 22.3,440.7 18.9,440.7" fill="#b9b9b9" />
<polygon points="58.1,410.7 63.5,411.1 83.6,441.2 72.7,443.6" fill="#bebebe" />
<polygon points="104.1,444.8 155.0,437.8 198.6,449.6 219.2,459.3 169.5,462.5 125.9,455.2" fill="#dedede" />
<path d="M41.2,436.3 Q41.2,434.4 44.8,434.1 L59.3,433.9 Q62.0,434.4 61.5,440.7 Q61.0,444.1 57.6,444.6 L43.6,445.0 Q40.7,443.6 41.2,436.3 Z" fill="#dadada" />
<polygon points="-1.2,479.9 77.5,484.8 77.5,496.9 -1.2,493.2" fill="#bfbfbf" />
<polygon points="-1.2,496.9 75.1,500.5 75.1,507.8 -1.2,504.1" fill="#d0d0d0" />
<path d="M-1.2,456.9 L72.7,463.0" fill="none" stroke="#d4d4d4" stroke-width="1" />
<path d="M72.7,446.0 L71.4,479.9" fill="none" stroke="#b9b9b9" stroke-width="1" />
<polygon points="14.5,448.4 24.2,448.0 25.2,451.3 15.0,452.1" fill="#d6d6d6" />
<ellipse cx="102.9" cy="496.9" rx="27.1" ry="32.7" fill="#b4b4b4"/>
<ellipse cx="104.1" cy="499.3" rx="24.2" ry="29.5" fill="#c3c3c3"/>
<ellipse cx="100.5" cy="499.3" rx="17.4" ry="23.7" fill="#d3d3d3"/>
<line x1="100.51" y1="499.30" x2="114.60" y2="506.50" stroke="#c0c0c0" stroke-width="3.4" />
<line x1="100.51" y1="499.30" x2="99.97" y2="520.28" stroke="#c0c0c0" stroke-width="3.4" />
<line x1="100.51" y1="499.30" x2="86.09" y2="505.07" stroke="#c0c0c0" stroke-width="3.4" />
<line x1="100.51" y1="499.30" x2="92.13" y2="481.88" stroke="#c0c0c0" stroke-width="3.4" />
<line x1="100.51" y1="499.30" x2="109.75" y2="482.76" stroke="#c0c0c0" stroke-width="3.4" />
<ellipse cx="100.5" cy="499.3" rx="3.6" ry="4.6" fill="#bcbcbc"/>
<polygon points="124.7,456.9 145.3,459.3 164.7,470.2 168.3,478.7 145.3,473.9 130.8,466.6" fill="#d6d6d6" />
<polygon points="135.6,463.5 155.0,469.0 157.4,472.7 142.9,470.2" fill="#c1c1c1" />
<polygon points="170.7,464.9 224.0,461.8 228.9,479.9 184.1,483.6 174.4,475.1" fill="#bcbcbc" />
<path d="M172.4,466.8 L224.8,463.9" fill="none" stroke="#d6d6d6" stroke-width="1" />
<path d="M175.3,471.0 L225.7,468.1" fill="none" stroke="#d6d6d6" stroke-width="1" />
<path d="M178.3,475.1 L226.7,472.2" fill="none" stroke="#d6d6d6" stroke-width="1" />
<path d="M181.2,479.2 L227.7,476.3" fill="none" stroke="#d6d6d6" stroke-width="1" />
<circle cx="207.80" cy="473.14" r="6.60" fill="#c4c4c4" stroke="#dadada" stroke-width="1" />
<polygon points="193.8,487.7 220.9,486.7 221.1,494.9 194.0,496.4" fill="#e2e2e2" />
<polygon points="135.6,496.9 191.3,499.3 193.8,506.6 232.5,502.9 233.7,507.8 179.2,513.8 132.0,512.6" fill="#c0c0c0" />
<polygon points="145.3,501.7 169.5,502.9 170.7,505.4 145.3,504.6" fill="#d2d2d2" />
<ellipse cx="198.6" cy="515.8" rx="20" ry="8" fill="#bfbfbf"/>
</g>
<g id="products">
<polygon points="491.2,480.0 497.9,480.0 497.9,495.1 495.7,499.1 491.8,496.1" fill="url(#pin)" />
<polygon points="540.1,486.0 546.8,486.0 546.8,500.9 544.7,504.9 540.7,501.9" fill="url(#pin)" />
<polygon points="590.9,490.0 597.6,490.0 597.6,506.6 595.5,510.6 591.5,507.6" fill="url(#pin)" />
<polygon points="466.3,407.5 489.3,396.6 619.7,406.1 606.3,415.2" fill="#3b3b3b" stroke="#3b3b3b" stroke-width="0.8" stroke-linejoin="round"/>
<polygon points="606.3,415.2 619.7,406.1 616.8,484.2 603.4,493.4" fill="url(#bodyS)" stroke="#393939" stroke-width="0.8" stroke-linejoin="round"/>
<polygon points="466.3,407.5 606.3,415.2 603.4,493.4 468.2,478.0 467.2,428.6 474.0,428.8 474.0,419.0 466.6,418.6" fill="url(#bodyF)" stroke="#353535" stroke-width="0.8" stroke-linejoin="round"/>
<polygon points="478.8,402.3 490.3,401.0 491.2,404.2 479.7,405.6" fill="#1c1c1c" />
<polygon points="497.8,447.6 493.7,452.4 489.5,457.0 483.3,455.9 477.2,454.5 475.1,448.6 473.2,442.6 477.3,437.8 481.5,433.2 487.7,434.3 493.8,435.7 495.9,441.6" fill="#262626" stroke="#262626" stroke-width="1.6" stroke-linejoin="round"/>
<circle cx="486.10" cy="444.70" r="10.00" fill="#3a3a3a" />
<circle cx="485.50" cy="445.10" r="8.30" fill="#2a2a2a" />
<circle cx="485.20" cy="445.40" r="6.70" fill="#0a0a0a" />
<polygon points="582.1,457.2 578.0,462.0 573.8,466.6 567.6,465.5 561.5,464.1 559.4,458.2 557.5,452.2 561.6,447.4 565.8,442.8 572.0,443.9 578.1,445.3 580.2,451.2" fill="#262626" stroke="#262626" stroke-width="1.6" stroke-linejoin="round"/>
<circle cx="570.40" cy="454.30" r="10.00" fill="#3a3a3a" />
<circle cx="569.80" cy="454.70" r="8.30" fill="#2a2a2a" />
<circle cx="569.50" cy="455.00" r="6.70" fill="#0a0a0a" />
<g transform="translate(533.4 426.7) rotate(3)"><rect x="-20.1" y="-8.2" width="40.3" height="16.4" rx="8.2" fill="#323232" stroke="#1b1b1b" stroke-width="1.3"/><rect x="-19.2" y="-7.3" width="38.5" height="14.6" rx="7.3" fill="none" stroke="#4a4a4a" stroke-width="0.5"/><text x="0" y="4.1" font-size="10.8" font-weight="bold" font-style="italic" text-anchor="middle" fill="#3d3d3d" stroke="#1b1b1b" stroke-width=".7" textLength="32.2" lengthAdjust="spacingAndGlyphs">CNIBAO</text></g>
<text x="477.80" y="474.20" font-size="13.4" fill="#1b1b1b" textLength="18.20" lengthAdjust="spacingAndGlyphs" transform="rotate(3 477.8 474.2)">NC</text>
<text x="522.90" y="479.00" font-size="13.4" fill="#1b1b1b" textLength="16.30" lengthAdjust="spacingAndGlyphs" transform="rotate(3 522.9 479)">NO</text>
<text x="580.40" y="484.80" font-size="13.4" fill="#1b1b1b" textLength="8.60" lengthAdjust="spacingAndGlyphs" transform="rotate(3 580.4 484.8)">C</text>
<ellipse cx="584.2" cy="409.0" rx="29.1" ry="8.0" fill="#2d2d2d"/>
<ellipse cx="584.2" cy="410.2" rx="29.1" ry="8.0" fill="#262626"/>
<ellipse cx="584.2" cy="408.4" rx="28.1" ry="7.0" fill="#333"/>
<ellipse cx="584.2" cy="407.2" rx="24.5" ry="4.8" fill="#151515"/>
<path d="M563.7,404.6 L563.7,391.8 Q563.7,388.6 566.9,388.0 Q584.0,386.8 601.1,388.0 Q604.3,388.6 604.3,391.8 L604.3,404.6 Q584.0,409.7 563.7,404.6 Z" fill="url(#boot)" />
<path d="M568.9,389.4 L568.9,380.4 Q568.9,377.8 571.5,377.2 Q584.2,376.4 596.9,377.2 Q599.5,377.8 599.5,380.4 L599.5,389.4 Q584.2,393.6 568.9,389.4 Z" fill="url(#boot2)" />
<path d="M572.7,377.6 L572.7,369.7 A11.5,11.5 0 0 1 595.7,369.7 L595.7,377.6 Q584.2,380.8 572.7,377.6 Z" fill="url(#dome)" />
<ellipse cx="583.2" cy="360.8" rx="4.1" ry="1.8" fill="#777" opacity=".5"/>
<rect x="682.10" y="478.00" width="15.80" height="26.30" fill="none" stroke="#bdbdb9" stroke-width="3.2" rx="2.6" />
<rect x="682.10" y="478.00" width="15.80" height="26.30" fill="none" stroke="#f1f1ee" stroke-width="1.5" rx="2.6" />
<rect x="717.20" y="486.00" width="17.20" height="26.00" fill="none" stroke="#bdbdb9" stroke-width="3.2" rx="2.6" />
<rect x="717.20" y="486.00" width="17.20" height="26.00" fill="none" stroke="#f1f1ee" stroke-width="1.5" rx="2.6" />
<polygon points="653.4,404.2 680.3,397.5 762.7,406.1 731.1,414.8" fill="#3b3b3b" stroke="#3b3b3b" stroke-width="0.8" stroke-linejoin="round"/>
<polygon points="731.1,414.8 762.7,406.1 760.8,475.2 731.1,493.4" fill="url(#bodyS)" stroke="#393939" stroke-width="0.8" stroke-linejoin="round"/>
<polygon points="653.4,404.2 731.1,414.8 731.1,493.4 655.3,476.1" fill="url(#bodyF)" stroke="#353535" stroke-width="0.8" stroke-linejoin="round"/>
<g transform="translate(690.2 422.8) rotate(8)"><rect x="-17.8" y="-7.8" width="35.5" height="15.6" rx="7.8" fill="#323232" stroke="#1b1b1b" stroke-width="1.3"/><rect x="-16.9" y="-6.9" width="33.7" height="13.8" rx="6.9" fill="none" stroke="#4a4a4a" stroke-width="0.5"/><text x="0" y="3.9" font-size="10.3" font-weight="bold" font-style="italic" text-anchor="middle" fill="#3d3d3d" stroke="#1b1b1b" stroke-width=".7" textLength="28.4" lengthAdjust="spacingAndGlyphs">CNIBAO</text></g>
<ellipse cx="707.5" cy="399.4" rx="29.7" ry="10.5" fill="#2d2d2d"/>
<ellipse cx="707.5" cy="400.6" rx="29.7" ry="10.5" fill="#262626"/>
<ellipse cx="707.5" cy="398.8" rx="28.7" ry="9.5" fill="#333"/>
<ellipse cx="707.5" cy="397.6" rx="25.1" ry="7.3" fill="#151515"/>
<path d="M687.0,396.6 L687.0,386.8 Q687.0,383.6 690.2,383.0 Q707.6,381.8 725.0,383.0 Q728.2,383.6 728.2,386.8 L728.2,396.6 Q707.6,401.7 687.0,396.6 Z" fill="url(#boot)" />
<path d="M690.8,385.0 L690.8,373.8 Q690.8,371.2 693.4,370.6 Q707.4,369.8 721.4,370.6 Q724.0,371.2 724.0,373.8 L724.0,385.0 Q707.4,389.2 690.8,385.0 Z" fill="url(#boot2)" />
<path d="M696.0,371.0 L696.0,364.0 A11.5,11.5 0 0 1 719.0,364.0 L719.0,371.0 Q707.5,374.2 696.0,371.0 Z" fill="url(#dome)" />
<ellipse cx="706.5" cy="355.1" rx="4.1" ry="1.8" fill="#777" opacity=".5"/>
<polygon points="824.5,484.0 832.0,484.0 832.0,502.2 829.5,506.2 825.1,503.2" fill="url(#pin)" />
<polygon points="873.0,492.0 880.4,492.0 880.4,511.3 877.9,515.3 873.6,512.3" fill="url(#pin)" />
<circle cx="908.60" cy="434.40" r="4.40" fill="#2a2a2a" />
<polygon points="795.4,405.4 823.6,400.5 909.0,405.9 877.2,414.5" fill="#3b3b3b" stroke="#3b3b3b" stroke-width="0.8" stroke-linejoin="round"/>
<polygon points="877.2,414.5 909.0,405.9 908.0,480.8 879.0,496.7" fill="url(#bodyS)" stroke="#393939" stroke-width="0.8" stroke-linejoin="round"/>
<polygon points="795.4,405.4 877.2,414.5 879.0,496.7 796.7,482.2" fill="url(#bodyF)" stroke="#353535" stroke-width="0.8" stroke-linejoin="round"/>
<ellipse cx="891.7" cy="404.9" rx="4.6" ry="1.5" fill="#111"/>
<g transform="translate(835.0 424.4) rotate(8)"><rect x="-19.3" y="-8.2" width="38.6" height="16.4" rx="8.2" fill="#323232" stroke="#1b1b1b" stroke-width="1.3"/><rect x="-18.4" y="-7.3" width="36.8" height="14.6" rx="7.3" fill="none" stroke="#4a4a4a" stroke-width="0.5"/><text x="0" y="4.1" font-size="10.8" font-weight="bold" font-style="italic" text-anchor="middle" fill="#3d3d3d" stroke="#1b1b1b" stroke-width=".7" textLength="30.9" lengthAdjust="spacingAndGlyphs">CNIBAO</text></g>
<ellipse cx="851.7" cy="399.9" rx="30.9" ry="10.0" fill="#2d2d2d"/>
<ellipse cx="851.7" cy="401.1" rx="30.9" ry="10.0" fill="#262626"/>
<ellipse cx="851.7" cy="399.3" rx="29.9" ry="9.0" fill="#333"/>
<ellipse cx="851.7" cy="398.1" rx="26.3" ry="6.8" fill="#151515"/>
<path d="M830.5,395.6 L830.5,386.4 Q830.5,383.2 833.7,382.6 Q851.8,381.4 869.8,382.6 Q873.0,383.2 873.0,386.4 L873.0,395.6 Q851.8,400.7 830.5,395.6 Z" fill="url(#boot)" />
<path d="M835.4,384.0 L835.4,372.2 Q835.4,369.6 838.0,369.0 Q852.2,368.2 866.4,369.0 Q869.0,369.6 869.0,372.2 L869.0,384.0 Q852.2,388.2 835.4,384.0 Z" fill="url(#boot2)" />
<path d="M839.6,369.2 L839.6,362.1 A12.1,12.1 0 0 1 863.8,362.1 L863.8,369.2 Q851.7,372.4 839.6,369.2 Z" fill="url(#dome)" />
<ellipse cx="850.7" cy="352.6" rx="4.4" ry="1.9" fill="#777" opacity=".5"/>
<rect x="975.00" y="382.00" width="10.00" height="115.60" fill="url(#wire)" />
<rect x="977.60" y="497.40" width="4.80" height="3.60" fill="#d98a6a" />
<rect x="1018.40" y="382.00" width="9.90" height="121.00" fill="#2a2a2a" />
<rect x="1020.80" y="502.80" width="4.80" height="3.60" fill="#d98a6a" />
<ellipse cx="1058.6" cy="263.5" rx="3.6" ry="6.4" fill="#2a2a2a"/>
<polygon points="962.8,366.0 965.2,381.2 1036.2,386.0 1038.7,372.0" fill="#2c2c2c" stroke="#2c2c2c" stroke-width="0.8" stroke-linejoin="round"/>
<polygon points="941.8,235.1 968.4,227.8 1058.8,233.5 1040.3,240.7" fill="#3b3b3b" stroke="#3b3b3b" stroke-width="0.8" stroke-linejoin="round"/>
<polygon points="1040.3,240.7 1058.8,233.5 1058.0,360.2 1040.3,376.3" fill="url(#bodyS)" stroke="#393939" stroke-width="0.8" stroke-linejoin="round"/>
<polygon points="941.8,235.1 1040.3,240.7 1040.3,376.3 942.6,368.3" fill="url(#bodyF)" stroke="#353535" stroke-width="0.8" stroke-linejoin="round"/>
<polygon points="966.4,276.5 962.1,281.7 957.4,286.7 950.7,285.5 944.1,284.0 941.8,277.6 939.8,271.1 944.1,265.9 948.8,260.9 955.5,262.1 962.1,263.6 964.4,270.0" fill="#262626" stroke="#262626" stroke-width="1.6" stroke-linejoin="round"/>
<circle cx="953.70" cy="273.40" r="10.88" fill="#3a3a3a" />
<circle cx="953.10" cy="273.80" r="8.00" fill="#2a2a2a" />
<circle cx="952.80" cy="274.10" r="6.40" fill="#0a0a0a" />
<rect x="993.60" y="265.20" width="33.00" height="27.40" fill="#262626" rx="9" transform="rotate(4 1010 279)"/>
<rect x="995.60" y="267.00" width="29.00" height="23.80" fill="#373737" rx="8" transform="rotate(4 1010 279)"/>
<rect x="999.40" y="271.40" width="18.60" height="15.40" fill="#0a0a0a" rx="6" transform="rotate(4 1010 279)"/>
<g transform="translate(987.0 253.6) rotate(4)"><rect x="-21.0" y="-8.1" width="42.0" height="16.2" rx="8.1" fill="#323232" stroke="#1b1b1b" stroke-width="1.3"/><rect x="-20.1" y="-7.2" width="40.2" height="14.4" rx="7.2" fill="none" stroke="#4a4a4a" stroke-width="0.5"/><text x="0" y="4.0" font-size="10.7" font-weight="bold" font-style="italic" text-anchor="middle" fill="#3d3d3d" stroke="#1b1b1b" stroke-width=".7" textLength="33.6" lengthAdjust="spacingAndGlyphs">CNIBAO</text></g>
<ellipse cx="1000.7" cy="227.8" rx="31.5" ry="10.5" fill="#2d2d2d"/>
<ellipse cx="1000.7" cy="229.0" rx="31.5" ry="10.5" fill="#262626"/>
<ellipse cx="1000.7" cy="227.2" rx="30.5" ry="9.5" fill="#333"/>
<ellipse cx="1000.7" cy="226.0" rx="26.9" ry="7.3" fill="#151515"/>
<path d="M978.1,223.6 L978.1,213.8 Q978.1,210.6 981.3,210.0 Q1000.3,208.8 1019.3,210.0 Q1022.5,210.6 1022.5,213.8 L1022.5,223.6 Q1000.3,228.7 978.1,223.6 Z" fill="url(#boot)" />
<path d="M982.2,210.8 L982.2,199.8 Q982.2,197.2 984.8,196.6 Q1000.1,195.8 1015.4,196.6 Q1018.0,197.2 1018.0,199.8 L1018.0,210.8 Q1000.1,215.0 982.2,210.8 Z" fill="url(#boot2)" />
<path d="M987.8,197.0 L987.8,190.3 A12.9,12.9 0 0 1 1013.6,190.3 L1013.6,197.0 Q1000.7,200.2 987.8,197.0 Z" fill="url(#dome)" />
<ellipse cx="999.7" cy="180.0" rx="4.6" ry="2.1" fill="#777" opacity=".5"/>
</g>
</g>
<g id="sections">
<rect x="33.00" y="608.60" width="514.50" height="47.00" fill="url(#pillg)" rx="23.5" transform="translate(0 0)"/>
<circle cx="53.90" cy="632.20" r="3.60" fill="#fff" opacity=".75"/>
<circle cx="59.60" cy="626.40" r="3.60" fill="#fff" opacity=".75"/>
<circle cx="59.60" cy="638.00" r="3.60" fill="#fff" opacity=".75"/>
<circle cx="65.30" cy="632.20" r="3.60" fill="#fff" opacity=".75"/>
<circle cx="71.00" cy="626.40" r="3.60" fill="#fff" opacity=".75"/>
<circle cx="71.00" cy="638.00" r="3.60" fill="#fff" opacity=".75"/>
<circle cx="53.90" cy="632.20" r="2.85" fill="#231815" />
<circle cx="59.60" cy="626.40" r="2.85" fill="#231815" />
<circle cx="59.60" cy="638.00" r="2.85" fill="#231815" />
<circle cx="65.30" cy="632.20" r="2.85" fill="#9a9a9a" />
<circle cx="71.00" cy="626.40" r="2.85" fill="#9a9a9a" />
<circle cx="71.00" cy="638.00" r="2.85" fill="#9a9a9a" />
<text x="86.60" y="638.20" font-size="16.3" fill="#231815" font-weight="900">特点</text>
<text x="125.20" y="639.10" font-size="19.7" fill="#231815" font-weight="bold" textLength="92.60" lengthAdjust="spacingAndGlyphs" stroke="#231815" stroke-width="0.55" stroke-linejoin="round">FEATURE</text>
<rect x="576.40" y="608.60" width="513.10" height="47.00" fill="url(#pillg)" rx="23.5" transform="translate(0 0)"/>
<circle cx="597.30" cy="632.20" r="3.60" fill="#fff" opacity=".75"/>
<circle cx="603.00" cy="626.40" r="3.60" fill="#fff" opacity=".75"/>
<circle cx="603.00" cy="638.00" r="3.60" fill="#fff" opacity=".75"/>
<circle cx="608.70" cy="632.20" r="3.60" fill="#fff" opacity=".75"/>
<circle cx="614.40" cy="626.40" r="3.60" fill="#fff" opacity=".75"/>
<circle cx="614.40" cy="638.00" r="3.60" fill="#fff" opacity=".75"/>
<circle cx="597.30" cy="632.20" r="2.85" fill="#231815" />
<circle cx="603.00" cy="626.40" r="2.85" fill="#231815" />
<circle cx="603.00" cy="638.00" r="2.85" fill="#231815" />
<circle cx="608.70" cy="632.20" r="2.85" fill="#9a9a9a" />
<circle cx="614.40" cy="626.40" r="2.85" fill="#9a9a9a" />
<circle cx="614.40" cy="638.00" r="2.85" fill="#9a9a9a" />
<text x="627.60" y="638.20" font-size="16.3" fill="#231815" font-weight="900">应用</text>
<text x="667.00" y="639.10" font-size="19.7" fill="#231815" font-weight="bold" textLength="135.80" lengthAdjust="spacingAndGlyphs" stroke="#231815" stroke-width="0.55" stroke-linejoin="round">APPLICATION</text>
<rect x="33.00" y="930.60" width="1055.60" height="47.00" fill="url(#pillg)" rx="23.5" transform="translate(0 0)"/>
<circle cx="53.90" cy="954.20" r="3.60" fill="#fff" opacity=".75"/>
<circle cx="59.60" cy="948.40" r="3.60" fill="#fff" opacity=".75"/>
<circle cx="59.60" cy="960.00" r="3.60" fill="#fff" opacity=".75"/>
<circle cx="65.30" cy="954.20" r="3.60" fill="#fff" opacity=".75"/>
<circle cx="71.00" cy="948.40" r="3.60" fill="#fff" opacity=".75"/>
<circle cx="71.00" cy="960.00" r="3.60" fill="#fff" opacity=".75"/>
<circle cx="53.90" cy="954.20" r="2.85" fill="#231815" />
<circle cx="59.60" cy="948.40" r="2.85" fill="#231815" />
<circle cx="59.60" cy="960.00" r="2.85" fill="#231815" />
<circle cx="65.30" cy="954.20" r="2.85" fill="#9a9a9a" />
<circle cx="71.00" cy="948.40" r="2.85" fill="#9a9a9a" />
<circle cx="71.00" cy="960.00" r="2.85" fill="#9a9a9a" />
<text x="87.00" y="961.20" font-size="16.3" fill="#231815" font-weight="900">外形尺寸图</text>
<text x="174.60" y="962.10" font-size="19.7" fill="#231815" font-weight="bold" textLength="187.80" lengthAdjust="spacingAndGlyphs" stroke="#231815" stroke-width="0.55" stroke-linejoin="round">OUTLINE DRAWING</text>
<rect x="35.20" y="1726.80" width="1054.00" height="47.00" fill="url(#pillg)" rx="23.5" transform="translate(0 0)"/>
<circle cx="56.10" cy="1750.40" r="3.60" fill="#fff" opacity=".75"/>
<circle cx="61.80" cy="1744.60" r="3.60" fill="#fff" opacity=".75"/>
<circle cx="61.80" cy="1756.20" r="3.60" fill="#fff" opacity=".75"/>
<circle cx="67.50" cy="1750.40" r="3.60" fill="#fff" opacity=".75"/>
<circle cx="73.20" cy="1744.60" r="3.60" fill="#fff" opacity=".75"/>
<circle cx="73.20" cy="1756.20" r="3.60" fill="#fff" opacity=".75"/>
<circle cx="56.10" cy="1750.40" r="2.85" fill="#231815" />
<circle cx="61.80" cy="1744.60" r="2.85" fill="#231815" />
<circle cx="61.80" cy="1756.20" r="2.85" fill="#231815" />
<circle cx="67.50" cy="1750.40" r="2.85" fill="#9a9a9a" />
<circle cx="73.20" cy="1744.60" r="2.85" fill="#9a9a9a" />
<circle cx="73.20" cy="1756.20" r="2.85" fill="#9a9a9a" />
<text x="87.80" y="1757.00" font-size="16.3" fill="#231815" font-weight="900">特性参数</text>
<text x="158.60" y="1757.90" font-size="19.7" fill="#231815" font-weight="bold" textLength="137.80" lengthAdjust="spacingAndGlyphs" stroke="#231815" stroke-width="0.55" stroke-linejoin="round">PARAMETERS</text>
<rect x="33.00" y="2151.00" width="1052.90" height="47.00" fill="url(#pillg)" rx="23.5" transform="translate(0 0)"/>
<circle cx="53.90" cy="2174.60" r="3.60" fill="#fff" opacity=".75"/>
<circle cx="59.60" cy="2168.80" r="3.60" fill="#fff" opacity=".75"/>
<circle cx="59.60" cy="2180.40" r="3.60" fill="#fff" opacity=".75"/>
<circle cx="65.30" cy="2174.60" r="3.60" fill="#fff" opacity=".75"/>
<circle cx="71.00" cy="2168.80" r="3.60" fill="#fff" opacity=".75"/>
<circle cx="71.00" cy="2180.40" r="3.60" fill="#fff" opacity=".75"/>
<circle cx="53.90" cy="2174.60" r="2.85" fill="#231815" />
<circle cx="59.60" cy="2168.80" r="2.85" fill="#231815" />
<circle cx="59.60" cy="2180.40" r="2.85" fill="#231815" />
<circle cx="65.30" cy="2174.60" r="2.85" fill="#9a9a9a" />
<circle cx="71.00" cy="2168.80" r="2.85" fill="#9a9a9a" />
<circle cx="71.00" cy="2180.40" r="2.85" fill="#9a9a9a" />
<text x="84.60" y="2180.80" font-size="16.3" fill="#231815" font-weight="900">订货型号指引</text>
<text x="188.80" y="2181.70" font-size="19.7" fill="#231815" font-weight="bold" textLength="245.60" lengthAdjust="spacingAndGlyphs" stroke="#231815" stroke-width="0.55" stroke-linejoin="round">ORDERING INSTRUCTION</text>
<text x="87.20" y="690.85" font-size="14.5" fill="#3e3a39">防水</text>
<text x="116.00" y="691.05" font-size="15.7" fill="#3e3a39" textLength="42.00" lengthAdjust="spacingAndGlyphs">(IP67)</text>
<text x="158.20" y="690.85" font-size="14.5" fill="#3e3a39">设计</text>
<text x="198.80" y="690.85" font-size="20.5" fill="#3e3a39" text-anchor="middle">·</text>
<text x="209.40" y="691.05" font-size="15.7" fill="#3e3a39" textLength="213.10" lengthAdjust="spacingAndGlyphs">Designed For Waterproof IP67</text>
<text x="87.20" y="712.35" font-size="14.5" fill="#3e3a39">体型小巧、紧凑</text>
<text x="200.50" y="712.35" font-size="20.5" fill="#3e3a39" text-anchor="middle">·</text>
<text x="211.10" y="712.55" font-size="15.7" fill="#3e3a39" textLength="138.90" lengthAdjust="spacingAndGlyphs">Small Compact Size</text>
<text x="87.20" y="733.85" font-size="14.5" fill="#3e3a39">拥有开关安规认证</text>
<text x="215.00" y="733.85" font-size="20.5" fill="#3e3a39" text-anchor="middle">·</text>
<text x="225.60" y="734.05" font-size="15.7" fill="#3e3a39" textLength="167.80" lengthAdjust="spacingAndGlyphs">Switch Safety Approvals</text>
<text x="87.20" y="755.35" font-size="14.5" fill="#3e3a39">寿命长、可靠性高</text>
<text x="215.00" y="755.35" font-size="20.5" fill="#3e3a39" text-anchor="middle">·</text>
<text x="225.60" y="755.55" font-size="15.7" fill="#3e3a39" textLength="200.30" lengthAdjust="spacingAndGlyphs">Long Life and High Reliability</text>
<text x="87.20" y="776.85" font-size="14.5" fill="#3e3a39">配备各种形状的压杆</text>
<text x="229.50" y="776.85" font-size="20.5" fill="#3e3a39" text-anchor="middle">·</text>
<text x="240.10" y="777.05" font-size="15.7" fill="#3e3a39" textLength="139.00" lengthAdjust="spacingAndGlyphs">Offer Variety Levers</text>
<text x="87.20" y="798.35" font-size="14.5" fill="#3e3a39">接线端子种类齐全</text>
<text x="215.00" y="798.35" font-size="20.5" fill="#3e3a39" text-anchor="middle">·</text>
<text x="225.60" y="798.55" font-size="15.7" fill="#3e3a39" textLength="250.40" lengthAdjust="spacingAndGlyphs">Complete Variety of Wiring Terminal</text>
<text x="87.20" y="841.20" font-size="14.5" fill="#3e3a39">多种安装外形尺寸满足不同安装要求</text>
<text x="86.80" y="862.40" font-size="15.7" fill="#3e3a39" textLength="436.00" lengthAdjust="spacingAndGlyphs">Various Dimensions Satisfy Different Installation Requirements</text>
<text x="628.20" y="689.90" font-size="14.5" fill="#3e3a39">汽车</text>
<text x="669.00" y="689.90" font-size="20.5" fill="#3e3a39" text-anchor="middle">·</text>
<text x="680.20" y="690.10" font-size="15.7" fill="#3e3a39" textLength="25.00" lengthAdjust="spacingAndGlyphs">Car</text>
<text x="628.20" y="714.83" font-size="14.5" fill="#3e3a39">空调</text>
<text x="669.00" y="714.83" font-size="20.5" fill="#3e3a39" text-anchor="middle">·</text>
<text x="680.20" y="715.03" font-size="15.7" fill="#3e3a39" textLength="108.80" lengthAdjust="spacingAndGlyphs">Air−Conditioner</text>
<text x="628.20" y="739.76" font-size="14.5" fill="#3e3a39">通讯</text>
<text x="669.00" y="739.76" font-size="20.5" fill="#3e3a39" text-anchor="middle">·</text>
<text x="680.20" y="739.96" font-size="15.7" fill="#3e3a39" textLength="108.30" lengthAdjust="spacingAndGlyphs">Communication</text>
<text x="628.20" y="764.69" font-size="14.5" fill="#3e3a39">家用电器</text>
<text x="698.00" y="764.69" font-size="20.5" fill="#3e3a39" text-anchor="middle">·</text>
<text x="709.20" y="764.89" font-size="15.7" fill="#3e3a39" textLength="114.10" lengthAdjust="spacingAndGlyphs">Home Appliance</text>
<text x="628.20" y="789.62" font-size="14.5" fill="#3e3a39">电机控制器</text>
<text x="712.50" y="789.62" font-size="20.5" fill="#3e3a39" text-anchor="middle">·</text>
<text x="723.70" y="789.82" font-size="15.7" fill="#3e3a39" textLength="95.00" lengthAdjust="spacingAndGlyphs">Motor Control</text>
<text x="628.20" y="814.55" font-size="14.5" fill="#3e3a39">共享设备</text>
<text x="698.00" y="814.55" font-size="20.5" fill="#3e3a39" text-anchor="middle">·</text>
<text x="709.20" y="814.75" font-size="15.7" fill="#3e3a39" textLength="105.50" lengthAdjust="spacingAndGlyphs">Sharing Device</text>
<text x="628.20" y="839.48" font-size="14.5" fill="#3e3a39">玩具</text>
<text x="669.00" y="839.48" font-size="20.5" fill="#3e3a39" text-anchor="middle">·</text>
<text x="680.20" y="839.68" font-size="15.7" fill="#3e3a39" textLength="34.20" lengthAdjust="spacingAndGlyphs">Toys</text>
<text x="628.20" y="864.41" font-size="14.5" fill="#3e3a39">充电桩</text>
<text x="683.50" y="864.41" font-size="20.5" fill="#3e3a39" text-anchor="middle">·</text>
<text x="694.70" y="864.61" font-size="15.7" fill="#3e3a39" textLength="116.60" lengthAdjust="spacingAndGlyphs">Charging Station</text>
</g>
<g id="drawing">
<g id="topview">
<rect x="277.20" y="1072.10" width="171.30" height="109.20" fill="none" stroke="#231815" stroke-width="1.25" />
<line x1="277.20" y1="1045.10" x2="277.20" y2="1068.00" stroke="#231815" stroke-width="1.25" />
<line x1="448.50" y1="1045.10" x2="448.50" y2="1068.00" stroke="#231815" stroke-width="1.25" />
<line x1="277.20" y1="1056.00" x2="348.00" y2="1056.00" stroke="#231815" stroke-width="1.25" />
<line x1="377.60" y1="1056.00" x2="448.50" y2="1056.00" stroke="#231815" stroke-width="1.25" />
<polygon points="277.2,1056.0 283.7,1054.5 283.7,1057.5" fill="#231815" />
<polygon points="448.5,1056.0 442.0,1054.5 442.0,1057.5" fill="#231815" />
<text x="349.80" y="1061.30" font-size="16.4" fill="#231815" textLength="26.00" lengthAdjust="spacingAndGlyphs">8.30</text>
<line x1="245.10" y1="1072.10" x2="273.00" y2="1072.10" stroke="#231815" stroke-width="1.25" />
<line x1="245.10" y1="1181.30" x2="273.00" y2="1181.30" stroke="#231815" stroke-width="1.25" />
<line x1="256.00" y1="1072.10" x2="256.00" y2="1112.00" stroke="#231815" stroke-width="1.25" />
<line x1="256.00" y1="1141.00" x2="256.00" y2="1181.30" stroke="#231815" stroke-width="1.25" />
<polygon points="256.0,1072.1 254.5,1078.6 257.5,1078.6" fill="#231815" />
<polygon points="256.0,1181.3 254.5,1174.8 257.5,1174.8" fill="#231815" />
<text x="261.65" y="1139.60" font-size="16.4" fill="#231815" textLength="25.80" lengthAdjust="spacingAndGlyphs" transform="rotate(-90 261.65 1139.60)">5.30</text>
<circle cx="362.90" cy="1126.70" r="54.50" fill="none" stroke="#231815" stroke-width="1.25" />
<circle cx="362.90" cy="1126.70" r="49.20" fill="none" stroke="#231815" stroke-width="1.25" />
<circle cx="362.90" cy="1126.70" r="39.00" fill="none" stroke="#231815" stroke-width="1.7" />
<circle cx="362.90" cy="1126.70" r="36.60" fill="none" stroke="#231815" stroke-width="0.7" />
<circle cx="362.90" cy="1126.70" r="34.90" fill="none" stroke="#231815" stroke-width="0.7" />
<circle cx="362.90" cy="1126.70" r="33.20" fill="none" stroke="#231815" stroke-width="0.7" />
<circle cx="362.90" cy="1126.70" r="31.50" fill="none" stroke="#231815" stroke-width="0.7" />
<circle cx="362.90" cy="1126.70" r="22.20" fill="none" stroke="#231815" stroke-width="1.7" />
<line x1="325.90" y1="1126.70" x2="399.90" y2="1126.70" stroke="#231815" stroke-width="1.25" stroke-dasharray="22 3 5 3 8 3 5 3 22"/>
<line x1="362.90" y1="1089.70" x2="362.90" y2="1163.70" stroke="#231815" stroke-width="1.25" stroke-dasharray="22 3 5 3 8 3 5 3 22"/>
<path d="M283.2,1181.3 L283.2,1217.6 L287.4,1222.9 L307.70000000000005,1222.9 L309.3,1220.4 L312.90000000000003,1220.4 L314.5,1222.9 L335.5,1222.9 L339.7,1217.6 L339.7,1181.3" fill="none" stroke="#231815" stroke-width="1.25" />
<path d="M283.2,1217.6 L307.70000000000005,1217.6 L309.3,1220.4 M312.90000000000003,1220.4 L314.5,1217.6 L339.7,1217.6" fill="none" stroke="#231815" stroke-width="0.7" />
<line x1="295.30" y1="1181.30" x2="295.30" y2="1217.60" stroke="#231815" stroke-width="1.25" />
<line x1="307.60" y1="1181.30" x2="307.60" y2="1220.40" stroke="#231815" stroke-width="1.25" />
<line x1="314.40" y1="1181.30" x2="314.40" y2="1220.40" stroke="#231815" stroke-width="1.25" />
<line x1="327.30" y1="1181.30" x2="327.30" y2="1217.60" stroke="#231815" stroke-width="1.25" />
<line x1="311.10" y1="1171.20" x2="311.10" y2="1181.00" stroke="#231815" stroke-width="1.25" />
<line x1="311.10" y1="1181.00" x2="311.10" y2="1226.40" stroke="#231815" stroke-width="1.25" stroke-dasharray="9 2.4"/>
<path d="M387.7,1181.3 L387.7,1217.6 L391.9,1222.9 L410.90000000000003,1222.9 L412.5,1220.4 L416.1,1220.4 L417.7,1222.9 L436.6,1222.9 L440.8,1217.6 L440.8,1181.3" fill="none" stroke="#231815" stroke-width="1.25" />
<path d="M387.7,1217.6 L410.90000000000003,1217.6 L412.5,1220.4 M416.1,1220.4 L417.7,1217.6 L440.8,1217.6" fill="none" stroke="#231815" stroke-width="0.7" />
<line x1="389.60" y1="1181.30" x2="389.60" y2="1217.60" stroke="#231815" stroke-width="1.25" />
<line x1="410.80" y1="1181.30" x2="410.80" y2="1220.40" stroke="#231815" stroke-width="1.25" />
<line x1="417.80" y1="1181.30" x2="417.80" y2="1220.40" stroke="#231815" stroke-width="1.25" />
<line x1="436.60" y1="1181.30" x2="436.60" y2="1217.60" stroke="#231815" stroke-width="1.25" />
<line x1="438.60" y1="1181.30" x2="438.60" y2="1217.60" stroke="#231815" stroke-width="1.25" />
<line x1="414.30" y1="1171.20" x2="414.30" y2="1181.00" stroke="#231815" stroke-width="1.25" />
<line x1="414.30" y1="1181.00" x2="414.30" y2="1226.40" stroke="#231815" stroke-width="1.25" stroke-dasharray="9 2.4"/>
<line x1="311.10" y1="1230.50" x2="311.10" y2="1258.80" stroke="#231815" stroke-width="1.25" />
<line x1="414.30" y1="1230.50" x2="414.30" y2="1258.80" stroke="#231815" stroke-width="1.25" />
<line x1="311.10" y1="1248.30" x2="349.40" y2="1248.30" stroke="#231815" stroke-width="1.25" />
<line x1="376.00" y1="1248.30" x2="414.30" y2="1248.30" stroke="#231815" stroke-width="1.25" />
<polygon points="311.1,1248.3 317.6,1246.8 317.6,1249.8" fill="#231815" />
<polygon points="414.3,1248.3 407.8,1246.8 407.8,1249.8" fill="#231815" />
<text x="351.00" y="1253.40" font-size="16.4" fill="#231815" textLength="23.40" lengthAdjust="spacingAndGlyphs">5.00</text>
<line x1="453.60" y1="1181.30" x2="476.20" y2="1181.30" stroke="#231815" stroke-width="1.25" />
<line x1="438.00" y1="1222.90" x2="476.20" y2="1222.90" stroke="#231815" stroke-width="1.25" />
<path d="M467.1,1222.9 L467.1,1159.9 L471.6,1159.9" fill="none" stroke="#231815" stroke-width="1.25" />
<polygon points="467.1,1181.3 465.6,1187.8 468.6,1187.8" fill="#231815" />
<polygon points="467.1,1222.9 465.6,1216.4 468.6,1216.4" fill="#231815" />
<line x1="467.10" y1="1181.30" x2="467.10" y2="1222.90" stroke="#231815" stroke-width="1.25" />
<text x="472.50" y="1165.60" font-size="16.4" fill="#231815" textLength="23.70" lengthAdjust="spacingAndGlyphs">2.00</text>
<text x="497.90" y="1158.80" font-size="10.8" fill="#231815" textLength="4.60" lengthAdjust="spacingAndGlyphs" stroke="#231815" stroke-width="0.35">0</text>
<text x="498.10" y="1169.20" font-size="10.8" fill="#231815" textLength="20.60" lengthAdjust="spacingAndGlyphs" stroke="#231815" stroke-width="0.35">-0.10</text>
</g>
<g id="frontview">
<rect x="277.00" y="1425.70" width="171.40" height="141.90" fill="none" stroke="#231815" stroke-width="1.25" />
<path d="M308.09999999999997,1425.6 L308.09999999999997,1417 Q308.09999999999997,1412.7 312.5,1412.7 L413.29999999999995,1412.7 Q417.7,1412.7 417.7,1417 L417.7,1425.6" fill="none" stroke="#231815" stroke-width="1.25" />
<path d="M324.5,1412.7 L324.5,1389 Q324.5,1385 328.9,1385 L396.9,1385 Q401.29999999999995,1385 401.29999999999995,1389 L401.29999999999995,1412.7" fill="none" stroke="#231815" stroke-width="1.25" />
<path d="M332.79999999999995,1385 L332.79999999999995,1367 Q332.79999999999995,1362.7 337.29999999999995,1362.7 L388.5,1362.7 Q393.0,1362.7 393.0,1367 L393.0,1385" fill="none" stroke="#231815" stroke-width="1.25" />
<line x1="332.80" y1="1382.30" x2="393.00" y2="1382.30" stroke="#231815" stroke-width="1.25" />
<path d="M341.0,1362.2 L341.0,1350.6 A21.9,21.7 0 0 1 384.79999999999995,1350.6 L384.79999999999995,1362.2" fill="none" stroke="#231815" stroke-width="1.25" />
<line x1="342.90" y1="1361.60" x2="382.90" y2="1361.60" stroke="#231815" stroke-width="1.7" />
<path d="M342.5,1361 A21.5,21.5 0 0 1 383.29999999999995,1361" fill="none" stroke="#231815" stroke-width="1.25" stroke-dasharray="14 3"/>
<path d="M341.0,1404.4 A21.9,21.9 0 0 1 384.79999999999995,1404.4" fill="none" stroke="#231815" stroke-width="1.25" />
<line x1="362.90" y1="1318.40" x2="362.90" y2="1425.70" stroke="#231815" stroke-width="1.25" stroke-dasharray="26 3 5 3"/>
<line x1="362.90" y1="1328.90" x2="554.20" y2="1328.90" stroke="#231815" stroke-width="1.25" />
<line x1="373.30" y1="1341.70" x2="532.00" y2="1341.70" stroke="#231815" stroke-width="1.25" />
<line x1="393.30" y1="1382.60" x2="509.20" y2="1382.60" stroke="#231815" stroke-width="1.25" />
<line x1="453.20" y1="1425.90" x2="489.20" y2="1425.90" stroke="#231815" stroke-width="1.25" />
<line x1="377.80" y1="1487.70" x2="554.20" y2="1487.70" stroke="#231815" stroke-width="1.25" />
<line x1="543.10" y1="1328.90" x2="543.10" y2="1398.40" stroke="#231815" stroke-width="1.25" />
<line x1="543.10" y1="1417.60" x2="543.10" y2="1487.70" stroke="#231815" stroke-width="1.25" />
<polygon points="543.1,1328.9 541.6,1335.4 544.6,1335.4" fill="#231815" />
<polygon points="543.1,1487.7 541.6,1481.2 544.6,1481.2" fill="#231815" />
<text x="548.75" y="1416.30" font-size="16.4" fill="#231815" textLength="16.40" lengthAdjust="spacingAndGlyphs" transform="rotate(-90 548.75 1416.30)">FP</text>
<line x1="521.00" y1="1341.70" x2="521.00" y2="1405.60" stroke="#231815" stroke-width="1.25" />
<line x1="521.00" y1="1423.60" x2="521.00" y2="1487.70" stroke="#231815" stroke-width="1.25" />
<polygon points="521.0,1341.7 519.5,1348.2 522.5,1348.2" fill="#231815" />
<polygon points="521.0,1487.7 519.5,1481.2 522.5,1481.2" fill="#231815" />
<text x="526.65" y="1422.30" font-size="16.4" fill="#231815" textLength="15.10" lengthAdjust="spacingAndGlyphs" transform="rotate(-90 526.65 1422.30)">OP</text>
<line x1="498.80" y1="1382.60" x2="498.80" y2="1439.40" stroke="#231815" stroke-width="1.25" />
<line x1="498.80" y1="1466.00" x2="498.80" y2="1487.70" stroke="#231815" stroke-width="1.25" />
<polygon points="498.8,1382.6 497.3,1389.1 500.3,1389.1" fill="#231815" />
<polygon points="498.8,1487.7 497.3,1481.2 500.3,1481.2" fill="#231815" />
<text x="504.45" y="1464.60" font-size="16.4" fill="#231815" textLength="23.60" lengthAdjust="spacingAndGlyphs" transform="rotate(-90 504.45 1464.60)">TTP</text>
<line x1="478.80" y1="1425.90" x2="478.80" y2="1442.80" stroke="#231815" stroke-width="1.25" />
<line x1="478.80" y1="1470.40" x2="478.80" y2="1487.70" stroke="#231815" stroke-width="1.25" />
<polygon points="478.8,1425.9 477.3,1432.4 480.3,1432.4" fill="#231815" />
<polygon points="478.8,1487.7 477.3,1481.2 480.3,1481.2" fill="#231815" />
<text x="484.45" y="1469.00" font-size="16.4" fill="#231815" textLength="24.60" lengthAdjust="spacingAndGlyphs" transform="rotate(-90 484.45 1469.00)">3.00</text>
<line x1="190.00" y1="1412.80" x2="308.00" y2="1412.80" stroke="#231815" stroke-width="1.25" />
<line x1="190.00" y1="1425.90" x2="272.10" y2="1425.90" stroke="#231815" stroke-width="1.25" />
<path d="M201.1,1411 L201.1,1402.1 L206,1402.1" fill="none" stroke="#231815" stroke-width="1.25" />
<text x="207.10" y="1407.80" font-size="16.4" fill="#231815" textLength="57.30" lengthAdjust="spacingAndGlyphs">0.80 MAX</text>
<line x1="190.00" y1="1567.60" x2="272.10" y2="1567.60" stroke="#231815" stroke-width="1.25" />
<line x1="201.10" y1="1425.90" x2="201.10" y2="1482.60" stroke="#231815" stroke-width="1.25" />
<line x1="201.10" y1="1511.60" x2="201.10" y2="1567.60" stroke="#231815" stroke-width="1.25" />
<polygon points="201.1,1425.9 199.6,1432.4 202.6,1432.4" fill="#231815" />
<polygon points="201.1,1567.6 199.6,1561.1 202.6,1561.1" fill="#231815" />
<text x="206.75" y="1510.20" font-size="16.4" fill="#231815" textLength="25.80" lengthAdjust="spacingAndGlyphs" transform="rotate(-90 206.75 1510.20)">6.90</text>
<line x1="236.00" y1="1461.10" x2="306.50" y2="1461.10" stroke="#231815" stroke-width="1.25" />
<line x1="236.00" y1="1514.30" x2="306.50" y2="1514.30" stroke="#231815" stroke-width="1.25" />
<line x1="246.60" y1="1451.00" x2="246.60" y2="1461.10" stroke="#231815" stroke-width="1.25" />
<line x1="246.60" y1="1514.30" x2="246.60" y2="1524.40" stroke="#231815" stroke-width="1.25" />
<polygon points="246.6,1461.1 245.1,1454.6 248.1,1454.6" fill="#231815" />
<polygon points="246.6,1514.3 245.1,1520.8 248.1,1520.8" fill="#231815" />
<text x="252.25" y="1511.40" font-size="16.4" fill="#231815" textLength="26.00" lengthAdjust="spacingAndGlyphs" transform="rotate(-90 252.25 1511.40)">2.60</text>
<text x="245.00" y="1484.00" font-size="10.8" fill="#231815" stroke="#231815" stroke-width="0.35" textLength="4.6" lengthAdjust="spacingAndGlyphs" transform="rotate(-90 245.00 1484.00)">0</text>
<text x="255.40" y="1483.80" font-size="10.8" fill="#231815" stroke="#231815" stroke-width="0.35" textLength="20.6" lengthAdjust="spacingAndGlyphs" transform="rotate(-90 255.40 1483.80)">-0.10</text>
<path d="M294.10,1465.30 L306.30,1465.30 Q308.30,1465.30 309.30,1462.70 Q310.90,1459.90 312.50,1462.70 Q313.50,1465.30 315.50,1465.30 L327.70,1465.30 A28.0,28.0 0 0 1 327.70,1510.10 L315.50,1510.10 Q313.50,1510.10 312.50,1512.70 Q310.90,1515.50 309.30,1512.70 Q308.30,1510.10 306.30,1510.10 L294.10,1510.10 A28.0,28.0 0 0 1 294.10,1465.30 Z" fill="none" stroke="#231815" stroke-width="1.25" />
<path d="M297.03,1469.10 L324.77,1469.10 A23.2,23.2 0 0 1 324.77,1506.30 L297.03,1506.30 A23.2,23.2 0 0 1 297.03,1469.10 Z" fill="none" stroke="#231815" stroke-width="1.25" />
<path d="M299.52,1474.60 L322.28,1474.60 A17.35,17.35 0 0 1 322.28,1500.80 L299.52,1500.80 A17.35,17.35 0 0 1 299.52,1474.60 Z" fill="none" stroke="#231815" stroke-width="1.25" />
<line x1="294.10" y1="1465.30" x2="297.03" y2="1469.10" stroke="#231815" stroke-width="1.25" />
<line x1="294.10" y1="1510.10" x2="297.03" y2="1506.30" stroke="#231815" stroke-width="1.25" />
<line x1="327.70" y1="1465.30" x2="324.77" y2="1469.10" stroke="#231815" stroke-width="1.25" />
<line x1="327.70" y1="1510.10" x2="324.77" y2="1506.30" stroke="#231815" stroke-width="1.25" />
<line x1="275.40" y1="1487.70" x2="347.50" y2="1487.70" stroke="#231815" stroke-width="1.25" stroke-dasharray="22 3 5 3 8 3 5 3 30"/>
<line x1="310.90" y1="1451.00" x2="310.90" y2="1524.40" stroke="#231815" stroke-width="1.25" stroke-dasharray="22 3 5 3 8 3 5 3 30"/>
<path d="M263.2,1542.1 L268.8,1542.1 L295.4,1508.8" fill="none" stroke="#231815" stroke-width="1.25" />
<text x="206.60" y="1548.00" font-size="16.4" fill="#231815" textLength="32.60" lengthAdjust="spacingAndGlyphs">Ø2.70</text>
<text x="241.00" y="1541.20" font-size="10.8" fill="#231815" textLength="4.60" lengthAdjust="spacingAndGlyphs" stroke="#231815" stroke-width="0.35">0</text>
<text x="241.20" y="1551.60" font-size="10.8" fill="#231815" textLength="20.60" lengthAdjust="spacingAndGlyphs" stroke="#231815" stroke-width="0.35">-0.10</text>
<circle cx="414.40" cy="1487.70" r="26.80" fill="none" stroke="#231815" stroke-width="1.25" stroke-dasharray="15 3.2"/>
<circle cx="414.40" cy="1487.70" r="19.50" fill="none" stroke="#231815" stroke-width="1.25" />
<circle cx="414.40" cy="1487.70" r="12.70" fill="none" stroke="#231815" stroke-width="1.25" />
<path d="M414.40,1460.90 Q415.60,1464.10 419.40,1464.80 A23.45,23.45 0 0 1 437.30,1482.70 Q438.00,1486.50 441.20,1487.70 M441.20,1487.70 Q438.00,1488.90 437.30,1492.70 A23.45,23.45 0 0 1 419.40,1510.60 Q415.60,1511.30 414.40,1514.50 M414.40,1514.50 Q413.20,1511.30 409.40,1510.60 A23.45,23.45 0 0 1 391.50,1492.70 Q390.80,1488.90 387.60,1487.70 M387.60,1487.70 Q390.80,1486.50 391.50,1482.70 A23.45,23.45 0 0 1 409.40,1464.80 Q413.20,1464.10 414.40,1460.90 " fill="none" stroke="#231815" stroke-width="1.25" />
<line x1="414.40" y1="1451.00" x2="414.40" y2="1524.40" stroke="#231815" stroke-width="1.25" />
<path d="M435.5,1507.7 L463.2,1534.3 L468.6,1534.3" fill="none" stroke="#231815" stroke-width="1.25" />
<text x="469.90" y="1539.80" font-size="16.4" fill="#231815" textLength="32.40" lengthAdjust="spacingAndGlyphs">Ø2.60</text>
<text x="504.00" y="1533.00" font-size="10.8" fill="#231815" textLength="4.60" lengthAdjust="spacingAndGlyphs" stroke="#231815" stroke-width="0.35">0</text>
<text x="504.20" y="1543.40" font-size="10.8" fill="#231815" textLength="20.60" lengthAdjust="spacingAndGlyphs" stroke="#231815" stroke-width="0.35">-0.10</text>
<rect x="329.90" y="1432.20" width="66.60" height="27.20" fill="#fff" stroke="#4a4645" stroke-width="2.0" rx="13.6" />
<rect x="332.30" y="1434.60" width="61.80" height="22.40" fill="none" stroke="#4a4645" stroke-width="0.9" rx="11.2" />
<text x="363.20" y="1452.26" font-size="18.0" font-weight="bold" font-style="italic" text-anchor="middle" fill="#8d8a89" stroke="#3a3635" stroke-width="0.9" textLength="55.9" lengthAdjust="spacingAndGlyphs">CNIBAO</text>
<path d="M303.0,1567.6 L303.0,1576.0 Q303.0,1580.0 300.0,1580.6 Q299.8,1582.0 299.8,1588.0 L299.8,1625.4 Q299.8,1632.4 306.8,1632.4 L334.0,1632.4 Q341.0,1632.4 341.0,1625.4 L341.0,1588.0 Q341.0,1582.0 331.7,1580.6 Q328.7,1580.0 328.7,1576.0 L328.7,1567.6" fill="none" stroke="#231815" stroke-width="1.25" />
<rect x="308.20" y="1588.60" width="25.50" height="34.10" fill="none" stroke="#231815" stroke-width="1.25" rx="8" />
<path d="M396.6,1567.6 L396.6,1576.0 Q396.6,1580.0 393.6,1580.6 Q384.8,1582.0 384.8,1588.0 L384.8,1625.4 Q384.8,1632.4 391.8,1632.4 L418.8,1632.4 Q425.8,1632.4 425.8,1625.4 L425.8,1588.0 Q425.8,1582.0 424.8,1580.6 Q421.8,1580.0 421.8,1576.0 L421.8,1567.6" fill="none" stroke="#231815" stroke-width="1.25" />
<rect x="393.00" y="1588.60" width="24.90" height="34.10" fill="none" stroke="#231815" stroke-width="1.25" rx="8" />
<path d="M299.8,1567.6 L300.8,1570.1999999999998 L311.2,1570.1999999999998 L312.2,1567.6" fill="none" stroke="#231815" stroke-width="1.25" />
<path d="M348.9,1567.6 L349.9,1570.1999999999998 L375.4,1570.1999999999998 L376.4,1567.6" fill="none" stroke="#231815" stroke-width="1.25" />
<path d="M413.2,1567.6 L414.2,1570.1999999999998 L424,1570.1999999999998 L425,1567.6" fill="none" stroke="#231815" stroke-width="1.25" />
<line x1="253.10" y1="1580.40" x2="324.00" y2="1580.40" stroke="#231815" stroke-width="1.25" />
<line x1="253.10" y1="1632.40" x2="300.00" y2="1632.40" stroke="#231815" stroke-width="1.25" />
<line x1="264.10" y1="1570.70" x2="264.10" y2="1580.40" stroke="#231815" stroke-width="1.25" />
<line x1="264.10" y1="1632.40" x2="264.10" y2="1641.60" stroke="#231815" stroke-width="1.25" />
<polygon points="264.1,1580.4 262.6,1573.9 265.6,1573.9" fill="#231815" />
<polygon points="264.1,1632.4 262.6,1638.9 265.6,1638.9" fill="#231815" />
<text x="269.75" y="1628.60" font-size="16.4" fill="#231815" textLength="26.40" lengthAdjust="spacingAndGlyphs" transform="rotate(-90 269.75 1628.60)">2.50</text>
<line x1="341.00" y1="1621.60" x2="350.00" y2="1621.60" stroke="#231815" stroke-width="1.25" />
<line x1="375.40" y1="1621.60" x2="384.80" y2="1621.60" stroke="#231815" stroke-width="1.25" />
<polygon points="341.0,1621.6 346.0,1620.1 346.0,1623.1" fill="#231815" />
<polygon points="384.8,1621.6 379.8,1620.1 379.8,1623.1" fill="#231815" />
<line x1="341.00" y1="1622.00" x2="341.00" y2="1632.40" stroke="#231815" stroke-width="1.25" />
<line x1="384.80" y1="1622.00" x2="384.80" y2="1632.40" stroke="#231815" stroke-width="1.25" />
<text x="351.50" y="1627.00" font-size="16.4" fill="#231815" textLength="22.30" lengthAdjust="spacingAndGlyphs">2.10</text>
<line x1="299.80" y1="1632.40" x2="299.80" y2="1652.00" stroke="#231815" stroke-width="1.25" />
<line x1="425.80" y1="1632.40" x2="425.80" y2="1652.00" stroke="#231815" stroke-width="1.25" />
<line x1="299.80" y1="1642.10" x2="350.00" y2="1642.10" stroke="#231815" stroke-width="1.25" />
<line x1="375.40" y1="1642.10" x2="425.80" y2="1642.10" stroke="#231815" stroke-width="1.25" />
<polygon points="299.8,1642.1 306.3,1640.6 306.3,1643.6" fill="#231815" />
<polygon points="425.8,1642.1 419.3,1640.6 419.3,1643.6" fill="#231815" />
<text x="351.50" y="1647.40" font-size="16.4" fill="#231815" textLength="22.30" lengthAdjust="spacingAndGlyphs">6.10</text>
<line x1="414.50" y1="1589.60" x2="464.30" y2="1589.60" stroke="#231815" stroke-width="1.25" />
<line x1="414.50" y1="1622.70" x2="464.30" y2="1622.70" stroke="#231815" stroke-width="1.25" />
<line x1="453.80" y1="1579.10" x2="453.80" y2="1589.60" stroke="#231815" stroke-width="1.25" />
<line x1="453.80" y1="1622.70" x2="453.80" y2="1633.20" stroke="#231815" stroke-width="1.25" />
<polygon points="453.8,1589.6 452.3,1583.1 455.3,1583.1" fill="#231815" />
<polygon points="453.8,1622.7 452.3,1629.2 455.3,1629.2" fill="#231815" />
<text x="459.45" y="1618.20" font-size="16.4" fill="#231815" textLength="23.80" lengthAdjust="spacingAndGlyphs" transform="rotate(-90 459.45 1618.20)">1.60</text>
<line x1="453.00" y1="1567.60" x2="489.20" y2="1567.60" stroke="#231815" stroke-width="1.25" />
<line x1="418.40" y1="1632.40" x2="489.20" y2="1632.40" stroke="#231815" stroke-width="1.25" />
<line x1="478.70" y1="1567.60" x2="478.70" y2="1587.60" stroke="#231815" stroke-width="1.25" />
<line x1="478.70" y1="1613.00" x2="478.70" y2="1632.40" stroke="#231815" stroke-width="1.25" />
<polygon points="478.7,1567.6 477.2,1574.1 480.2,1574.1" fill="#231815" />
<polygon points="478.7,1632.4 477.2,1625.9 480.2,1625.9" fill="#231815" />
<text x="484.35" y="1611.60" font-size="16.4" fill="#231815" textLength="22.50" lengthAdjust="spacingAndGlyphs" transform="rotate(-90 484.35 1611.60)">3.10</text>
</g>
<g id="sideview">
<path d="M792.6,1568.6 L792.6,1417.6 Q792.6,1412.6 797.6,1412.6 L897.6,1412.6 Q902.6,1412.6 902.6,1417.6 L902.6,1568.6 Z" fill="none" stroke="#231815" stroke-width="1.25" />
<line x1="792.60" y1="1418.80" x2="902.60" y2="1418.80" stroke="#231815" stroke-width="1.25" />
<line x1="792.60" y1="1425.30" x2="902.60" y2="1425.30" stroke="#231815" stroke-width="1.25" />
<path d="M809.1999999999999,1412.6 L809.1999999999999,1388.6 Q809.1999999999999,1384.6 813.4,1384.6 L881.4,1384.6 Q885.6,1384.6 885.6,1388.6 L885.6,1412.6" fill="none" stroke="#231815" stroke-width="1.25" />
<path d="M817.4,1384.6 L817.4,1365.4 Q817.4,1361.4 821.8,1361.4 L873.0,1361.4 Q877.4,1361.4 877.4,1365.4 L877.4,1384.6" fill="none" stroke="#231815" stroke-width="1.25" />
<line x1="817.40" y1="1382.90" x2="877.40" y2="1382.90" stroke="#231815" stroke-width="1.25" />
<path d="M825.9,1359.4 L825.9,1349.8 A21.5,21.4 0 0 1 868.9,1349.8 L868.9,1359.4 Z" fill="none" stroke="#231815" stroke-width="1.25" />
<line x1="825.90" y1="1351.00" x2="868.90" y2="1351.00" stroke="#231815" stroke-width="1.25" />
<line x1="829.80" y1="1360.40" x2="865.00" y2="1360.40" stroke="#231815" stroke-width="1.7" />
<line x1="847.40" y1="1345.60" x2="847.40" y2="1356.40" stroke="#231815" stroke-width="1.25" />
<path d="M808.6,1296.1 L813.7,1296.1 L834.9,1330" fill="none" stroke="#231815" stroke-width="1.25" />
<text x="767.90" y="1302.20" font-size="16.4" fill="#231815" textLength="38.30" lengthAdjust="spacingAndGlyphs">SØ2.10</text>
<path d="M792.6,1461.0 L759.0,1461.0 L751.2,1469.4 L751.2,1507.4 L759.0,1515.3 L792.6,1515.3" fill="none" stroke="#231815" stroke-width="1.25" />
<line x1="758.24" y1="1464.15" x2="792.60" y2="1464.15" stroke="#231815" stroke-width="0.8" />
<line x1="758.24" y1="1512.69" x2="792.60" y2="1512.69" stroke="#231815" stroke-width="0.8" />
<path d="M756.4,1464.1 L756.4,1485.1 L759.8,1488.3 L756.4,1491.7 L756.4,1512.7" fill="none" stroke="#231815" stroke-width="0.8" />
<line x1="756.41" y1="1485.14" x2="792.60" y2="1485.14" stroke="#231815" stroke-width="0.8" />
<line x1="756.41" y1="1491.70" x2="792.60" y2="1491.70" stroke="#231815" stroke-width="0.8" />
<line x1="752.47" y1="1470.71" x2="756.41" y2="1465.46" stroke="#231815" stroke-width="0.8" />
<line x1="752.47" y1="1506.13" x2="756.41" y2="1511.37" stroke="#231815" stroke-width="0.8" />
<path d="M816.2,1568.6 L816.2,1570.6 L878.4,1570.6 L878.4,1568.6" fill="none" stroke="#231815" stroke-width="1.25" />
<rect x="843.50" y="1570.60" width="8.10" height="61.40" fill="none" stroke="#231815" stroke-width="1.25" />
<line x1="843.50" y1="1580.90" x2="851.60" y2="1580.90" stroke="#231815" stroke-width="1.25" />
<line x1="843.50" y1="1583.50" x2="851.60" y2="1583.50" stroke="#231815" stroke-width="1.25" />
<line x1="843.50" y1="1621.00" x2="851.60" y2="1621.00" stroke="#231815" stroke-width="1.25" />
<line x1="843.50" y1="1634.70" x2="843.50" y2="1650.40" stroke="#231815" stroke-width="1.25" />
<line x1="851.60" y1="1634.70" x2="851.60" y2="1650.40" stroke="#231815" stroke-width="1.25" />
<line x1="832.50" y1="1640.50" x2="843.50" y2="1640.50" stroke="#231815" stroke-width="1.25" />
<line x1="851.60" y1="1640.50" x2="862.10" y2="1640.50" stroke="#231815" stroke-width="1.25" />
<polygon points="843.5,1640.5 838.0,1639.0 838.0,1642.0" fill="#231815" />
<polygon points="851.6,1640.5 857.1,1639.0 857.1,1642.0" fill="#231815" />
<text x="807.60" y="1645.70" font-size="16.4" fill="#231815" textLength="22.30" lengthAdjust="spacingAndGlyphs">0.40</text>
</g>
</g>
<g id="params">
<rect x="50.00" y="1822.80" width="1024.00" height="3.00" fill="#1a1a1a" />
<rect x="50.00" y="2087.90" width="1024.00" height="3.00" fill="#1a1a1a" />
<line x1="50.00" y1="1861.50" x2="1074.00" y2="1861.50" stroke="#a0a0a0" stroke-width="1" />
<line x1="50.00" y1="1897.50" x2="1074.00" y2="1897.50" stroke="#a0a0a0" stroke-width="1" />
<line x1="50.00" y1="1936.50" x2="1074.00" y2="1936.50" stroke="#a0a0a0" stroke-width="1" />
<line x1="50.00" y1="1973.50" x2="1074.00" y2="1973.50" stroke="#a0a0a0" stroke-width="1" />
<line x1="50.00" y1="2013.50" x2="1074.00" y2="2013.50" stroke="#a0a0a0" stroke-width="1" />
<line x1="270.50" y1="2052.50" x2="1074.00" y2="2052.50" stroke="#a0a0a0" stroke-width="1" />
<line x1="454.50" y1="1824.50" x2="454.50" y2="2088.50" stroke="#a0a0a0" stroke-width="1" />
<line x1="270.50" y1="2013.50" x2="270.50" y2="2088.50" stroke="#a0a0a0" stroke-width="1" />
<text x="90.45" y="1850.90" font-size="15.2" fill="#3e3a39" letter-spacing="0.9">额定值</text>
<text transform="translate(138.90 1851.10) scale(1.0 1)" font-size="14.0" fill="#3e3a39" textLength="50.40" lengthAdjust="spacing">/Rating</text>
<text x="90.45" y="1885.60" font-size="15.2" fill="#3e3a39" letter-spacing="0.9">初始接触电阻</text>
<text transform="translate(187.20 1885.80) scale(1.0 1)" font-size="14.0" fill="#3e3a39" textLength="141.00" lengthAdjust="spacing">/Contact Resistance</text>
<text x="90.45" y="1924.00" font-size="15.2" fill="#3e3a39" letter-spacing="0.9">操作温度</text>
<text transform="translate(155.00 1924.20) scale(1.0 1)" font-size="14.0" fill="#3e3a39" textLength="166.00" lengthAdjust="spacing">/Operating Temperature</text>
<text x="90.45" y="1962.00" font-size="15.2" fill="#3e3a39" letter-spacing="0.9">操作力</text>
<text transform="translate(138.90 1962.20) scale(1.0 1)" font-size="14.0" fill="#3e3a39" textLength="118.50" lengthAdjust="spacing">/Operating Force</text>
<text x="90.45" y="2000.50" font-size="15.2" fill="#3e3a39" letter-spacing="0.9">行程</text>
<text transform="translate(122.80 2000.70) scale(1.0 1)" font-size="14.0" fill="#3e3a39" textLength="48.00" lengthAdjust="spacing">/Travel</text>
<text x="90.45" y="2057.00" font-size="15.2" fill="#3e3a39" letter-spacing="0.9">寿命</text>
<text transform="translate(122.80 2057.20) scale(1.0 1)" font-size="14.0" fill="#3e3a39" textLength="92.20" lengthAdjust="spacing">/Service Life</text>
<text x="301.05" y="2039.90" font-size="15.2" fill="#3e3a39" letter-spacing="0.9">电气</text>
<text transform="translate(333.40 2040.10) scale(1.0 1)" font-size="14.0" fill="#3e3a39" textLength="72.00" lengthAdjust="spacing">/Electrical</text>
<text x="301.05" y="2077.60" font-size="15.2" fill="#3e3a39" letter-spacing="0.9">机械</text>
<text transform="translate(333.40 2077.80) scale(1.0 1)" font-size="14.0" fill="#3e3a39" textLength="83.60" lengthAdjust="spacing">/Mechanical</text>
<text transform="translate(516.60 1850.80) scale(1.0 1)" font-size="14.0" fill="#3e3a39" textLength="88.40" lengthAdjust="spacing">0.1A 12VDC</text>
<text transform="translate(513.60 1886.00) scale(1.0 1)" font-size="14.0" fill="#3e3a39" textLength="36.80" lengthAdjust="spacing">500m</text>
<text x="552.20" y="1885.80" font-size="14.6" fill="#3e3a39" textLength="12.40" lengthAdjust="spacingAndGlyphs">Ω</text>
<text transform="translate(574.20 1886.00) scale(1.0 1)" font-size="14.0" fill="#3e3a39" textLength="33.20" lengthAdjust="spacing">MAX</text>
<text transform="translate(518.10 1923.50) scale(1.0 1)" font-size="14.0" fill="#3e3a39" textLength="44.50" lengthAdjust="spacing">40T85</text>
<text transform="translate(514.20 1961.70) scale(1.0 1)" font-size="14.0" fill="#3e3a39" textLength="77.80" lengthAdjust="spacing">90gf MAX;</text>
<text transform="translate(616.50 1961.70) scale(1.0 1)" font-size="14.0" fill="#3e3a39" textLength="81.80" lengthAdjust="spacing">150gf MAX</text>
<text transform="translate(515.70 2000.90) scale(1.0 1)" font-size="14.0" fill="#3e3a39" textLength="49.70" lengthAdjust="spacing">OP=7.1</text>
<text x="573.60" y="2001.60" font-size="15.0" fill="#3e3a39" text-anchor="middle" textLength="12.60" lengthAdjust="spacingAndGlyphs" font-family="'Noto Sans CJK SC','Liberation Sans',sans-serif">±</text>
<text transform="translate(581.80 2000.90) scale(1.0 1)" font-size="14.0" fill="#3e3a39" textLength="46.50" lengthAdjust="spacing">0.3mm</text>
<text transform="translate(647.90 2000.90) scale(1.0 1)" font-size="14.0" fill="#3e3a39" textLength="105.30" lengthAdjust="spacing">FP=7.8mmMAX</text>
<text transform="translate(773.80 2000.90) scale(1.0 1)" font-size="14.0" fill="#3e3a39" textLength="115.00" lengthAdjust="spacing">TTP=5.1mmMAX</text>
<text x="514.60" y="2039.30" font-size="15.5" fill="#3e3a39" textLength="13.50" lengthAdjust="spacingAndGlyphs">≥</text>
<text transform="translate(529.90 2039.30) scale(1.0 1)" font-size="14.0" fill="#3e3a39" textLength="102.40" lengthAdjust="spacing">30,000 Cycles</text>
<text x="514.60" y="2077.50" font-size="15.5" fill="#3e3a39" textLength="13.50" lengthAdjust="spacingAndGlyphs">≥</text>
<text transform="translate(529.90 2077.50) scale(1.0 1)" font-size="14.0" fill="#3e3a39" textLength="111.40" lengthAdjust="spacing">300,000 Cycles</text>
</g>
<g id="ordering">
<rect x="48.20" y="2248.20" width="1023.00" height="3.10" fill="#1a1a1a" />
<rect x="48.20" y="2287.60" width="1023.00" height="3.30" fill="#1a1a1a" />
<rect x="48.20" y="2829.20" width="1023.00" height="3.20" fill="#1a1a1a" />
<rect x="48.20" y="2869.20" width="1023.00" height="3.20" fill="#1a1a1a" />
<line x1="48.20" y1="2376.50" x2="1071.20" y2="2376.50" stroke="#a0a0a0" stroke-width="1" />
<line x1="48.20" y1="2466.50" x2="1071.20" y2="2466.50" stroke="#a0a0a0" stroke-width="1" />
<line x1="48.20" y1="2556.50" x2="1071.20" y2="2556.50" stroke="#a0a0a0" stroke-width="1" />
<line x1="48.20" y1="2646.50" x2="1071.20" y2="2646.50" stroke="#a0a0a0" stroke-width="1" />
<line x1="48.20" y1="2737.50" x2="1071.20" y2="2737.50" stroke="#a0a0a0" stroke-width="1" />
<line x1="238.50" y1="2250.00" x2="238.50" y2="2830.00" stroke="#a0a0a0" stroke-width="1" />
<line x1="285.50" y1="2250.00" x2="285.50" y2="2830.00" stroke="#a0a0a0" stroke-width="1" />
<line x1="524.50" y1="2250.00" x2="524.50" y2="2830.00" stroke="#a0a0a0" stroke-width="1" />
<line x1="571.50" y1="2250.00" x2="571.50" y2="2830.00" stroke="#a0a0a0" stroke-width="1" />
<line x1="779.50" y1="2250.00" x2="779.50" y2="2830.00" stroke="#a0a0a0" stroke-width="1" />
<line x1="826.50" y1="2250.00" x2="826.50" y2="2830.00" stroke="#a0a0a0" stroke-width="1" />
<text transform="translate(64.50 2277.10) scale(1.0 1)" font-size="14.0" fill="#3e3a39" textLength="33.70" lengthAdjust="spacing">MAG</text>
<text x="99.05" y="2276.90" font-size="15.2" fill="#3e3a39" letter-spacing="0.95">系列</text>
<text transform="translate(131.60 2277.10) scale(1.0 1)" font-size="14.0" fill="#3e3a39" textLength="47.90" lengthAdjust="spacing">/Series</text>
<text x="354.05" y="2276.90" font-size="15.2" fill="#3e3a39" letter-spacing="0.95">电路形式</text>
<text transform="translate(418.80 2277.10) scale(1.0 1)" font-size="14.0" fill="#3e3a39" textLength="52.40" lengthAdjust="spacing">/Circuit</text>
<text x="609.25" y="2276.90" font-size="15.2" fill="#3e3a39" letter-spacing="0.95">外壳类型</text>
<text transform="translate(674.00 2277.10) scale(1.0 1)" font-size="14.0" fill="#3e3a39" textLength="74.70" lengthAdjust="spacing">/Base Type</text>
<text x="869.55" y="2276.90" font-size="15.2" fill="#3e3a39" letter-spacing="0.95">端子类型</text>
<text transform="translate(934.30 2277.10) scale(1.0 1)" font-size="14.0" fill="#3e3a39" textLength="105.70" lengthAdjust="spacing">/Terminal Type</text>
<text x="262.30" y="2340.90" font-size="15.6" fill="#3e3a39" text-anchor="middle" textLength="9.36" lengthAdjust="spacingAndGlyphs">A</text>
<text x="541.40" y="2340.90" font-size="15.2" fill="#3e3a39" textLength="15.40" lengthAdjust="spacingAndGlyphs">01</text>
<text y="2340.90" font-size="17.4" fill="#3e3a39"><tspan x="801.51" textLength="4.17" lengthAdjust="spacingAndGlyphs">I</tspan></text>
<text x="262.30" y="2429.10" font-size="15.6" fill="#3e3a39" text-anchor="middle" textLength="9.36" lengthAdjust="spacingAndGlyphs">B</text>
<text x="541.40" y="2429.10" font-size="15.2" fill="#3e3a39" textLength="15.40" lengthAdjust="spacingAndGlyphs">02</text>
<text y="2429.10" font-size="17.4" fill="#3e3a39"><tspan x="798.31" textLength="4.17" lengthAdjust="spacingAndGlyphs">I</tspan><tspan x="802.71" textLength="4.17" lengthAdjust="spacingAndGlyphs">I</tspan></text>
<text x="262.30" y="2518.40" font-size="15.6" fill="#3e3a39" text-anchor="middle" textLength="10.14" lengthAdjust="spacingAndGlyphs">C</text>
<text x="541.40" y="2518.40" font-size="15.2" fill="#3e3a39" textLength="15.40" lengthAdjust="spacingAndGlyphs">03</text>
<text y="2518.40" font-size="17.4" fill="#3e3a39"><tspan x="797.81" textLength="4.17" lengthAdjust="spacingAndGlyphs">I</tspan><tspan x="801.01" textLength="4.17" lengthAdjust="spacingAndGlyphs">I</tspan><tspan x="804.21" textLength="4.17" lengthAdjust="spacingAndGlyphs">I</tspan></text>
<text x="262.30" y="2607.40" font-size="15.6" fill="#3e3a39" text-anchor="middle" textLength="10.14" lengthAdjust="spacingAndGlyphs">D</text>
<text x="541.40" y="2607.40" font-size="15.2" fill="#3e3a39" textLength="15.40" lengthAdjust="spacingAndGlyphs">04</text>
<text y="2607.40" font-size="17.0" fill="#3e3a39"><tspan x="796.51" textLength="3.87" lengthAdjust="spacingAndGlyphs">I</tspan><tspan x="800.24" textLength="8.51" lengthAdjust="spacingAndGlyphs">V</tspan></text>
<text x="262.30" y="2698.80" font-size="15.6" fill="#3e3a39" text-anchor="middle" textLength="9.36" lengthAdjust="spacingAndGlyphs">E</text>
<text x="541.40" y="2698.80" font-size="15.2" fill="#3e3a39" textLength="15.40" lengthAdjust="spacingAndGlyphs">05</text>
<text y="2698.80" font-size="17.0" fill="#3e3a39"><tspan x="797.14" textLength="9.22" lengthAdjust="spacingAndGlyphs">V</tspan></text>
<circle cx="261.30" cy="2777.70" r="1.25" fill="#3e3a39" />
<circle cx="261.30" cy="2784.80" r="1.25" fill="#3e3a39" />
<circle cx="261.30" cy="2791.90" r="1.25" fill="#3e3a39" />
<circle cx="549.10" cy="2777.70" r="1.25" fill="#3e3a39" />
<circle cx="549.10" cy="2784.80" r="1.25" fill="#3e3a39" />
<circle cx="549.10" cy="2791.90" r="1.25" fill="#3e3a39" />
<circle cx="802.80" cy="2775.20" r="1.25" fill="#3e3a39" />
<circle cx="802.80" cy="2782.30" r="1.25" fill="#3e3a39" />
<circle cx="802.80" cy="2789.40" r="1.25" fill="#3e3a39" />
<circle cx="676.10" cy="2685.90" r="1.25" fill="#3e3a39" />
<circle cx="676.10" cy="2693.00" r="1.25" fill="#3e3a39" />
<circle cx="676.10" cy="2700.10" r="1.25" fill="#3e3a39" />
<circle cx="948.60" cy="2688.10" r="1.25" fill="#3e3a39" />
<circle cx="948.60" cy="2695.20" r="1.25" fill="#3e3a39" />
<circle cx="948.60" cy="2702.30" r="1.25" fill="#3e3a39" />
<text x="642.05" y="2789.40" font-size="15.2" fill="#3e3a39" letter-spacing="0.95">其他</text>
<text transform="translate(674.40 2789.60) scale(1.0 1)" font-size="14.0" fill="#3e3a39" textLength="42.10" lengthAdjust="spacing">/Other</text>
<text x="913.95" y="2791.40" font-size="15.2" fill="#3e3a39" letter-spacing="0.95">其他</text>
<text transform="translate(946.30 2791.60) scale(1.0 1)" font-size="14.0" fill="#3e3a39" textLength="42.20" lengthAdjust="spacing">/Other</text>
<path d="M346.2,2348.1 L346.2,2319.1 L383.2,2319.1" fill="none" stroke="#3e3a39" stroke-width="1.25" />
<circle cx="387.60" cy="2319.10" r="4.10" fill="#fff" stroke="#3e3a39" stroke-width="1.25" />
<line x1="391.70" y1="2317.40" x2="417.90" y2="2308.20" stroke="#3e3a39" stroke-width="1.25" />
<circle cx="422.20" cy="2305.30" r="4.10" fill="#fff" stroke="#3e3a39" stroke-width="1.25" />
<path d="M426.4,2305.3 L460.3,2305.3 L460.3,2348.1" fill="none" stroke="#3e3a39" stroke-width="1.25" />
<circle cx="422.20" cy="2328.80" r="4.10" fill="#fff" stroke="#3e3a39" stroke-width="1.25" />
<line x1="422.20" y1="2333.00" x2="422.20" y2="2348.10" stroke="#3e3a39" stroke-width="1.25" />
<text x="338.00" y="2364.60" font-size="14.6" fill="#3e3a39" textLength="34.30" lengthAdjust="spacingAndGlyphs">COM</text>
<text x="417.60" y="2366.50" font-size="14.6" fill="#3e3a39" textLength="20.60" lengthAdjust="spacingAndGlyphs">NO</text>
<text x="455.40" y="2366.50" font-size="14.6" fill="#3e3a39" textLength="20.60" lengthAdjust="spacingAndGlyphs">NC</text>
<path d="M345.5,2437.7 L345.5,2407.9 L383.2,2407.9" fill="none" stroke="#3e3a39" stroke-width="1.25" />
<circle cx="387.40" cy="2407.90" r="4.10" fill="#fff" stroke="#3e3a39" stroke-width="1.25" />
<line x1="391.20" y1="2409.90" x2="420.10" y2="2387.60" stroke="#3e3a39" stroke-width="1.25" />
<circle cx="422.20" cy="2407.90" r="4.10" fill="#fff" stroke="#3e3a39" stroke-width="1.25" />
<path d="M426.4,2407.9 L461,2407.9 L461,2437.7" fill="none" stroke="#3e3a39" stroke-width="1.25" />
<text x="332.40" y="2454.20" font-size="14.6" fill="#3e3a39" textLength="33.90" lengthAdjust="spacingAndGlyphs">COM</text>
<text x="455.90" y="2454.70" font-size="14.6" fill="#3e3a39" textLength="20.60" lengthAdjust="spacingAndGlyphs">NO</text>
<path d="M345.2,2523 L345.2,2492.2 L383.2,2492.2" fill="none" stroke="#3e3a39" stroke-width="1.25" />
<circle cx="387.40" cy="2492.20" r="4.10" fill="#fff" stroke="#3e3a39" stroke-width="1.25" />
<line x1="389.30" y1="2488.00" x2="420.40" y2="2488.00" stroke="#3e3a39" stroke-width="1.25" />
<circle cx="422.20" cy="2492.20" r="4.10" fill="#fff" stroke="#3e3a39" stroke-width="1.25" />
<path d="M426.4,2492.2 L461.2,2492.2 L461.2,2523" fill="none" stroke="#3e3a39" stroke-width="1.25" />
<text x="332.40" y="2539.00" font-size="14.6" fill="#3e3a39" textLength="33.90" lengthAdjust="spacingAndGlyphs">COM</text>
<text x="456.10" y="2539.90" font-size="14.6" fill="#3e3a39" textLength="20.40" lengthAdjust="spacingAndGlyphs">NC</text>
<rect x="615.50" y="2328.90" width="44.90" height="37.70" fill="none" stroke="#403c3b" stroke-width="1" />
<path d="M623.00,2328.90 L624.40,2325.60 L651.20,2325.60 L652.60,2328.90" fill="none" stroke="#403c3b" stroke-width="1" />
<line x1="624.80" y1="2326.90" x2="650.80" y2="2326.90" stroke="#403c3b" stroke-width="0.6" />
<path d="M628.00,2325.60 L628.00,2319.50 L629.20,2318.50 L646.40,2318.50 L647.60,2319.50 L647.60,2325.60" fill="none" stroke="#403c3b" stroke-width="1" />
<path d="M630.30,2318.50 L630.30,2313.30 L631.20,2311.90 L644.40,2311.90 L645.30,2313.30 L645.30,2318.50" fill="none" stroke="#403c3b" stroke-width="1" />
<line x1="630.30" y1="2316.70" x2="645.30" y2="2316.70" stroke="#403c3b" stroke-width="0.6" />
<path d="M632.00,2311.90 L632.00,2309.10 A5.80,5.80 0 0 1 643.60,2309.10 L643.60,2311.90" fill="none" stroke="#403c3b" stroke-width="1" />
<line x1="632.00" y1="2309.70" x2="643.60" y2="2309.70" stroke="#403c3b" stroke-width="0.6" />
<rect x="627.25" y="2330.70" width="21.50" height="8.20" fill="#fff" stroke="#403c3b" stroke-width="1.0" rx="4.1" />
<text x="638.00" y="2336.70" font-size="5.4" font-weight="bold" font-style="italic" text-anchor="middle" fill="#403c3b" textLength="16.8" lengthAdjust="spacingAndGlyphs">CNIBAO</text>
<rect x="704.30" y="2325.60" width="29.50" height="41.00" fill="none" stroke="#403c3b" stroke-width="1" />
<line x1="704.30" y1="2328.90" x2="733.80" y2="2328.90" stroke="#403c3b" stroke-width="0.8" />
<path d="M709.20,2325.60 L709.20,2319.50 L710.40,2318.50 L727.60,2318.50 L728.80,2319.50 L728.80,2325.60" fill="none" stroke="#403c3b" stroke-width="1" />
<path d="M711.50,2318.50 L711.50,2313.30 L712.40,2311.90 L725.60,2311.90 L726.50,2313.30 L726.50,2318.50" fill="none" stroke="#403c3b" stroke-width="1" />
<line x1="711.50" y1="2316.70" x2="726.50" y2="2316.70" stroke="#403c3b" stroke-width="0.6" />
<path d="M713.20,2311.90 L713.20,2309.10 A5.80,5.80 0 0 1 724.80,2309.10 L724.80,2311.90" fill="none" stroke="#403c3b" stroke-width="1" />
<line x1="713.20" y1="2309.70" x2="724.80" y2="2309.70" stroke="#403c3b" stroke-width="0.6" />
<rect x="588.40" y="2384.40" width="29.00" height="50.30" fill="none" stroke="#403c3b" stroke-width="1" />
<line x1="588.40" y1="2397.70" x2="617.40" y2="2397.70" stroke="#403c3b" stroke-width="1" />
<line x1="588.40" y1="2410.60" x2="617.40" y2="2410.60" stroke="#403c3b" stroke-width="1" />
<line x1="588.40" y1="2422.80" x2="617.40" y2="2422.80" stroke="#403c3b" stroke-width="1" />
<text x="602.90" y="2395.80" font-size="10.4" fill="#403c3b" text-anchor="middle">H</text>
<text x="590.00" y="2408.70" font-size="10.2" fill="#403c3b" textLength="26.40" lengthAdjust="spacingAndGlyphs">1.5mm</text>
<text x="590.00" y="2420.80" font-size="10.2" fill="#403c3b" textLength="26.40" lengthAdjust="spacingAndGlyphs">2.0mm</text>
<text x="590.00" y="2432.70" font-size="10.2" fill="#403c3b" textLength="26.40" lengthAdjust="spacingAndGlyphs">5.0mm</text>
<rect x="636.20" y="2417.70" width="45.50" height="37.70" fill="none" stroke="#403c3b" stroke-width="1" />
<path d="M644.00,2417.70 L645.40,2414.40 L672.20,2414.40 L673.60,2417.70" fill="none" stroke="#403c3b" stroke-width="1" />
<line x1="645.80" y1="2415.70" x2="671.80" y2="2415.70" stroke="#403c3b" stroke-width="0.6" />
<path d="M649.00,2414.40 L649.00,2408.30 L650.20,2407.30 L667.40,2407.30 L668.60,2408.30 L668.60,2414.40" fill="none" stroke="#403c3b" stroke-width="1" />
<path d="M651.30,2407.30 L651.30,2402.10 L652.20,2400.70 L665.40,2400.70 L666.30,2402.10 L666.30,2407.30" fill="none" stroke="#403c3b" stroke-width="1" />
<line x1="651.30" y1="2405.50" x2="666.30" y2="2405.50" stroke="#403c3b" stroke-width="0.6" />
<path d="M653.00,2400.70 L653.00,2397.90 A5.80,5.80 0 0 1 664.60,2397.90 L664.60,2400.70" fill="none" stroke="#403c3b" stroke-width="1" />
<line x1="653.00" y1="2398.50" x2="664.60" y2="2398.50" stroke="#403c3b" stroke-width="0.6" />
<rect x="648.85" y="2419.50" width="21.50" height="8.20" fill="#fff" stroke="#403c3b" stroke-width="1.0" rx="4.1" />
<text x="659.60" y="2425.50" font-size="5.4" font-weight="bold" font-style="italic" text-anchor="middle" fill="#403c3b" textLength="16.8" lengthAdjust="spacingAndGlyphs">CNIBAO</text>
<rect x="638.50" y="2428.10" width="14.80" height="12.40" fill="none" stroke="#403c3b" stroke-width="1" rx="5.2" />
<rect x="640.90" y="2430.50" width="10.00" height="7.60" fill="none" stroke="#403c3b" stroke-width="0.9" rx="3.2" />
<line x1="645.90" y1="2426.90" x2="645.90" y2="2428.10" stroke="#403c3b" stroke-width="0.9" />
<line x1="645.90" y1="2440.50" x2="645.90" y2="2441.70" stroke="#403c3b" stroke-width="0.9" />
<polygon points="672.6,2426.7 677.6,2429.3 680.2,2434.3 677.6,2439.3 672.6,2441.9 667.6,2439.3 665.0,2434.3 667.6,2429.3" fill="none" stroke="#403c3b" stroke-width="0.9" />
<circle cx="672.60" cy="2434.30" r="5.60" fill="none" stroke="#403c3b" stroke-width="0.9" />
<circle cx="672.60" cy="2434.30" r="3.60" fill="none" stroke="#403c3b" stroke-width="0.9" />
<rect x="714.30" y="2414.40" width="29.30" height="41.00" fill="none" stroke="#403c3b" stroke-width="1" />
<line x1="714.30" y1="2417.70" x2="743.60" y2="2417.70" stroke="#403c3b" stroke-width="0.8" />
<path d="M719.20,2414.40 L719.20,2408.30 L720.40,2407.30 L737.60,2407.30 L738.80,2408.30 L738.80,2414.40" fill="none" stroke="#403c3b" stroke-width="1" />
<path d="M721.50,2407.30 L721.50,2402.10 L722.40,2400.70 L735.60,2400.70 L736.50,2402.10 L736.50,2407.30" fill="none" stroke="#403c3b" stroke-width="1" />
<line x1="721.50" y1="2405.50" x2="736.50" y2="2405.50" stroke="#403c3b" stroke-width="0.6" />
<path d="M723.20,2400.70 L723.20,2397.90 A5.80,5.80 0 0 1 734.80,2397.90 L734.80,2400.70" fill="none" stroke="#403c3b" stroke-width="1" />
<line x1="723.20" y1="2398.50" x2="734.80" y2="2398.50" stroke="#403c3b" stroke-width="0.6" />
<path d="M743.6,2427.6 L749.6,2427.6 L751.6,2430.0 L751.6,2438.6 L749.6,2441.0 L743.6,2441.0" fill="none" stroke="#403c3b" stroke-width="1" />
<line x1="743.60" y1="2432.80" x2="751.60" y2="2432.80" stroke="#403c3b" stroke-width="0.8" />
<line x1="743.60" y1="2435.80" x2="751.60" y2="2435.80" stroke="#403c3b" stroke-width="0.8" />
<line x1="743.60" y1="2429.60" x2="751.60" y2="2429.60" stroke="#403c3b" stroke-width="0.6" />
<line x1="743.60" y1="2439.00" x2="751.60" y2="2439.00" stroke="#403c3b" stroke-width="0.6" />
<text x="753.00" y="2417.60" font-size="12.4" fill="#403c3b" textLength="8.20" lengthAdjust="spacingAndGlyphs">H</text>
<line x1="743.60" y1="2421.40" x2="761.40" y2="2421.40" stroke="#5c5958" stroke-width="0.8" />
<line x1="751.60" y1="2417.00" x2="751.60" y2="2427.00" stroke="#5c5958" stroke-width="0.8" />
<rect x="587.80" y="2474.40" width="29.00" height="50.30" fill="none" stroke="#403c3b" stroke-width="1" />
<line x1="587.80" y1="2487.70" x2="616.80" y2="2487.70" stroke="#403c3b" stroke-width="1" />
<line x1="587.80" y1="2500.60" x2="616.80" y2="2500.60" stroke="#403c3b" stroke-width="1" />
<line x1="587.80" y1="2512.80" x2="616.80" y2="2512.80" stroke="#403c3b" stroke-width="1" />
<text x="602.30" y="2485.80" font-size="10.4" fill="#403c3b" text-anchor="middle">H</text>
<text x="589.40" y="2498.70" font-size="10.2" fill="#403c3b" textLength="26.40" lengthAdjust="spacingAndGlyphs">1.5mm</text>
<text x="589.40" y="2510.80" font-size="10.2" fill="#403c3b" textLength="26.40" lengthAdjust="spacingAndGlyphs">2.0mm</text>
<text x="589.40" y="2522.70" font-size="10.2" fill="#403c3b" textLength="26.40" lengthAdjust="spacingAndGlyphs">5.0mm</text>
<rect x="635.50" y="2507.70" width="45.50" height="37.80" fill="none" stroke="#403c3b" stroke-width="1" />
<path d="M643.30,2507.70 L644.70,2504.40 L671.50,2504.40 L672.90,2507.70" fill="none" stroke="#403c3b" stroke-width="1" />
<line x1="645.10" y1="2505.70" x2="671.10" y2="2505.70" stroke="#403c3b" stroke-width="0.6" />
<path d="M648.30,2504.40 L648.30,2498.30 L649.50,2497.30 L666.70,2497.30 L667.90,2498.30 L667.90,2504.40" fill="none" stroke="#403c3b" stroke-width="1" />
<path d="M650.60,2497.30 L650.60,2492.10 L651.50,2490.70 L664.70,2490.70 L665.60,2492.10 L665.60,2497.30" fill="none" stroke="#403c3b" stroke-width="1" />
<line x1="650.60" y1="2495.50" x2="665.60" y2="2495.50" stroke="#403c3b" stroke-width="0.6" />
<path d="M652.30,2490.70 L652.30,2487.90 A5.80,5.80 0 0 1 663.90,2487.90 L663.90,2490.70" fill="none" stroke="#403c3b" stroke-width="1" />
<line x1="652.30" y1="2488.50" x2="663.90" y2="2488.50" stroke="#403c3b" stroke-width="0.6" />
<rect x="647.85" y="2509.50" width="21.50" height="8.20" fill="#fff" stroke="#403c3b" stroke-width="1.0" rx="4.1" />
<text x="658.60" y="2515.50" font-size="5.4" font-weight="bold" font-style="italic" text-anchor="middle" fill="#403c3b" textLength="16.8" lengthAdjust="spacingAndGlyphs">CNIBAO</text>
<rect x="637.00" y="2518.00" width="14.80" height="12.40" fill="none" stroke="#403c3b" stroke-width="1" rx="5.2" />
<rect x="639.40" y="2520.40" width="10.00" height="7.60" fill="none" stroke="#403c3b" stroke-width="0.9" rx="3.2" />
<line x1="644.40" y1="2516.80" x2="644.40" y2="2518.00" stroke="#403c3b" stroke-width="0.9" />
<line x1="644.40" y1="2530.40" x2="644.40" y2="2531.60" stroke="#403c3b" stroke-width="0.9" />
<polygon points="671.6,2516.6 676.6,2519.2 679.2,2524.2 676.6,2529.2 671.6,2531.8 666.6,2529.2 664.0,2524.2 666.6,2519.2" fill="none" stroke="#403c3b" stroke-width="0.9" />
<circle cx="671.60" cy="2524.20" r="5.60" fill="none" stroke="#403c3b" stroke-width="0.9" />
<circle cx="671.60" cy="2524.20" r="3.60" fill="none" stroke="#403c3b" stroke-width="0.9" />
<rect x="713.20" y="2504.40" width="29.50" height="41.10" fill="none" stroke="#403c3b" stroke-width="1" />
<line x1="713.20" y1="2507.70" x2="742.70" y2="2507.70" stroke="#403c3b" stroke-width="0.8" />
<path d="M718.30,2504.40 L718.30,2498.30 L719.50,2497.30 L736.70,2497.30 L737.90,2498.30 L737.90,2504.40" fill="none" stroke="#403c3b" stroke-width="1" />
<path d="M720.60,2497.30 L720.60,2492.10 L721.50,2490.70 L734.70,2490.70 L735.60,2492.10 L735.60,2497.30" fill="none" stroke="#403c3b" stroke-width="1" />
<line x1="720.60" y1="2495.50" x2="735.60" y2="2495.50" stroke="#403c3b" stroke-width="0.6" />
<path d="M722.30,2490.70 L722.30,2487.90 A5.80,5.80 0 0 1 733.90,2487.90 L733.90,2490.70" fill="none" stroke="#403c3b" stroke-width="1" />
<line x1="722.30" y1="2488.50" x2="733.90" y2="2488.50" stroke="#403c3b" stroke-width="0.6" />
<path d="M713.2,2517.3 L707.4,2517.3 L705.4,2519.7000000000003 L705.4,2528.6 L707.4,2531.0 L713.2,2531.0" fill="none" stroke="#403c3b" stroke-width="1" />
<line x1="705.40" y1="2522.65" x2="713.20" y2="2522.65" stroke="#403c3b" stroke-width="0.8" />
<line x1="705.40" y1="2525.65" x2="713.20" y2="2525.65" stroke="#403c3b" stroke-width="0.8" />
<line x1="705.40" y1="2519.30" x2="713.20" y2="2519.30" stroke="#403c3b" stroke-width="0.6" />
<line x1="705.40" y1="2529.00" x2="713.20" y2="2529.00" stroke="#403c3b" stroke-width="0.6" />
<path d="M742.7,2517.3 L748.3,2517.3 L750.3,2519.7000000000003 L750.3,2528.6 L748.3,2531.0 L742.7,2531.0" fill="none" stroke="#403c3b" stroke-width="1" />
<line x1="742.70" y1="2522.65" x2="750.30" y2="2522.65" stroke="#403c3b" stroke-width="0.8" />
<line x1="742.70" y1="2525.65" x2="750.30" y2="2525.65" stroke="#403c3b" stroke-width="0.8" />
<line x1="742.70" y1="2519.30" x2="750.30" y2="2519.30" stroke="#403c3b" stroke-width="0.6" />
<line x1="742.70" y1="2529.00" x2="750.30" y2="2529.00" stroke="#403c3b" stroke-width="0.6" />
<text x="751.60" y="2506.60" font-size="12.4" fill="#403c3b" textLength="8.20" lengthAdjust="spacingAndGlyphs">H</text>
<line x1="742.70" y1="2511.00" x2="760.60" y2="2511.00" stroke="#5c5958" stroke-width="0.8" />
<line x1="750.30" y1="2506.60" x2="750.30" y2="2517.00" stroke="#5c5958" stroke-width="0.8" />
<path d="M595.5,2594.3 L637.7,2594.3 L638.8,2588.4 L666.6,2588.4 L667.7,2594.3 L667.7,2631.6 L595.5,2631.6 Z" fill="none" stroke="#403c3b" stroke-width="1" />
<line x1="637.70" y1="2594.30" x2="667.70" y2="2594.30" stroke="#403c3b" stroke-width="0.8" />
<line x1="638.40" y1="2590.80" x2="667.00" y2="2590.80" stroke="#403c3b" stroke-width="0.7" />
<rect x="595.50" y="2601.00" width="4.40" height="5.50" fill="none" stroke="#403c3b" stroke-width="0.9" />
<path d="M644.20,2588.40 L644.20,2583.17 L645.23,2582.32 L659.97,2582.32 L661.00,2583.17 L661.00,2588.40" fill="none" stroke="#403c3b" stroke-width="1" />
<path d="M646.17,2582.32 L646.17,2577.86 L646.94,2576.66 L658.26,2576.66 L659.03,2577.86 L659.03,2582.32" fill="none" stroke="#403c3b" stroke-width="1" />
<line x1="646.17" y1="2580.77" x2="659.03" y2="2580.77" stroke="#403c3b" stroke-width="0.6" />
<path d="M647.63,2576.66 L647.63,2574.26 A4.97,4.97 0 0 1 657.57,2574.26 L657.57,2576.66" fill="none" stroke="#403c3b" stroke-width="1" />
<line x1="647.63" y1="2574.77" x2="657.57" y2="2574.77" stroke="#403c3b" stroke-width="0.6" />
<rect x="621.00" y="2597.60" width="21.20" height="7.80" fill="#fff" stroke="#403c3b" stroke-width="1.4" rx="3.9" />
<text x="631.6" y="2603.4" font-size="5.4" font-weight="bold" font-style="italic" text-anchor="middle" fill="#403c3b" stroke="#403c3b" stroke-width=".5" textLength="16.6" lengthAdjust="spacingAndGlyphs">CNIBAO</text>
<polygon points="609.5,2603.4 614.5,2606.0 617.1,2611.0 614.5,2616.0 609.5,2618.6 604.5,2616.0 601.9,2611.0 604.5,2606.0" fill="none" stroke="#403c3b" stroke-width="0.9" />
<circle cx="609.50" cy="2611.00" r="5.60" fill="none" stroke="#403c3b" stroke-width="0.9" />
<circle cx="609.50" cy="2611.00" r="3.60" fill="none" stroke="#403c3b" stroke-width="0.9" />
<polygon points="652.8,2603.4 657.8,2606.0 660.4,2611.0 657.8,2616.0 652.8,2618.6 647.8,2616.0 645.2,2611.0 647.8,2606.0" fill="none" stroke="#403c3b" stroke-width="0.9" />
<circle cx="652.80" cy="2611.00" r="5.60" fill="none" stroke="#403c3b" stroke-width="0.9" />
<circle cx="652.80" cy="2611.00" r="3.60" fill="none" stroke="#403c3b" stroke-width="0.9" />
<rect x="724.70" y="2588.40" width="29.10" height="43.20" fill="none" stroke="#403c3b" stroke-width="1" />
<line x1="724.70" y1="2591.20" x2="753.80" y2="2591.20" stroke="#403c3b" stroke-width="0.7" />
<line x1="724.70" y1="2594.30" x2="753.80" y2="2594.30" stroke="#403c3b" stroke-width="0.8" />
<path d="M731.00,2588.40 L731.00,2583.17 L732.03,2582.32 L746.77,2582.32 L747.80,2583.17 L747.80,2588.40" fill="none" stroke="#403c3b" stroke-width="1" />
<path d="M732.97,2582.32 L732.97,2577.86 L733.74,2576.66 L745.06,2576.66 L745.83,2577.86 L745.83,2582.32" fill="none" stroke="#403c3b" stroke-width="1" />
<line x1="732.97" y1="2580.77" x2="745.83" y2="2580.77" stroke="#403c3b" stroke-width="0.6" />
<path d="M734.43,2576.66 L734.43,2574.26 A4.97,4.97 0 0 1 744.37,2574.26 L744.37,2576.66" fill="none" stroke="#403c3b" stroke-width="1" />
<line x1="734.43" y1="2574.77" x2="744.37" y2="2574.77" stroke="#403c3b" stroke-width="0.6" />
<path d="M724.7,2603.2 L716.3,2603.2 L714.3,2605.6 L714.3,2615.2 L716.3,2617.6 L724.7,2617.6" fill="none" stroke="#403c3b" stroke-width="1" />
<line x1="714.30" y1="2608.90" x2="724.70" y2="2608.90" stroke="#403c3b" stroke-width="0.8" />
<line x1="714.30" y1="2611.90" x2="724.70" y2="2611.90" stroke="#403c3b" stroke-width="0.8" />
<line x1="714.30" y1="2605.20" x2="724.70" y2="2605.20" stroke="#403c3b" stroke-width="0.6" />
<line x1="714.30" y1="2615.60" x2="724.70" y2="2615.60" stroke="#403c3b" stroke-width="0.6" />
<text x="688.10" y="2623.20" font-size="12.8" fill="#3e3a39" textLength="16.70" lengthAdjust="spacingAndGlyphs">2.0</text>
<line x1="706.40" y1="2619.80" x2="714.30" y2="2619.80" stroke="#403c3b" stroke-width="0.9" />
<line x1="714.30" y1="2615.40" x2="714.30" y2="2625.60" stroke="#403c3b" stroke-width="0.9" />
<line x1="724.70" y1="2619.80" x2="732.40" y2="2619.80" stroke="#403c3b" stroke-width="0.9" />
<polygon points="714.3,2619.8 710.3,2618.6 710.3,2621.0" fill="#403c3b" />
<polygon points="724.7,2619.8 728.7,2618.6 728.7,2621.0" fill="#403c3b" />
<path d="M866.8,2294.4 L866.8,2316.6 L955.2,2316.6 L955.2,2299.9" fill="none" stroke="#403c3b" stroke-width="1" />
<path d="M866.8,2294.4 Q877.4,2301.4 884.5,2303.0" fill="none" stroke="#403c3b" stroke-width="1" />
<path d="M884.5,2303.0 Q893.3,2303.9 903.9,2298.8 Q919.8,2292.9 930.4,2300.8 Q937.5,2304.4 944.6,2303.0" fill="none" stroke="#403c3b" stroke-width="1" stroke-dasharray="7 5 24 5 7 5 30"/>
<path d="M942.8,2303.4 Q949.9,2302.8 955.2,2299.9" fill="none" stroke="#403c3b" stroke-width="1" />
<rect x="878.60" y="2316.60" width="6.40" height="1.60" fill="#403c3b" />
<rect x="904.00" y="2316.60" width="10.00" height="1.60" fill="#403c3b" />
<rect x="936.00" y="2316.60" width="6.60" height="1.60" fill="#403c3b" />
<path d="M881.4,2316.6 L881.4,2319.6 Q878.4,2321.6 878.4,2326.6 L878.4,2344.3 Q878.4,2349.3 883.4,2349.3 L895.7,2349.3 Q900.7,2349.3 900.7,2344.3 L900.7,2326.6 Q900.7,2321.6 893.6,2319.6 L893.6,2316.6" fill="none" stroke="#403c3b" stroke-width="1.1" />
<rect x="882.80" y="2327.20" width="13.50" height="18.30" fill="none" stroke="#403c3b" stroke-width="1.1" rx="4.2" />
<path d="M928.6,2316.6 L928.6,2319.6 Q921.5,2321.6 921.5,2326.6 L921.5,2344.3 Q921.5,2349.3 926.5,2349.3 L938.3,2349.3 Q943.3,2349.3 943.3,2344.3 L943.3,2326.6 Q943.3,2321.6 940.6,2319.6 L940.6,2316.6" fill="none" stroke="#403c3b" stroke-width="1.1" />
<rect x="925.90" y="2327.20" width="13.00" height="18.30" fill="none" stroke="#403c3b" stroke-width="1.1" rx="4.2" />
<text x="873.70" y="2346.90" font-size="10.6" fill="#403c3b" textLength="23.00" lengthAdjust="spacingAndGlyphs" transform="rotate(-90 873.70 2346.90)">2.30</text>
<line x1="873.40" y1="2325.60" x2="878.40" y2="2325.60" stroke="#5c5958" stroke-width="0.8" />
<line x1="873.40" y1="2349.30" x2="880.00" y2="2349.30" stroke="#5c5958" stroke-width="0.8" />
<line x1="875.60" y1="2325.60" x2="875.60" y2="2349.30" stroke="#5c5958" stroke-width="0.8" />
<text x="901.90" y="2337.20" font-size="10.6" fill="#403c3b" textLength="17.20" lengthAdjust="spacingAndGlyphs">1.20</text>
<line x1="884.00" y1="2338.60" x2="919.40" y2="2338.60" stroke="#5c5958" stroke-width="0.8" />
<text x="883.80" y="2358.50" font-size="10.6" fill="#403c3b" textLength="12.10" lengthAdjust="spacingAndGlyphs">2.0</text>
<text x="902.70" y="2358.50" font-size="10.6" fill="#403c3b" textLength="17.40" lengthAdjust="spacingAndGlyphs">2.10</text>
<line x1="878.40" y1="2360.20" x2="922.00" y2="2360.20" stroke="#5c5958" stroke-width="0.8" />
<text x="902.20" y="2369.90" font-size="10.6" fill="#403c3b" textLength="17.90" lengthAdjust="spacingAndGlyphs">6.10</text>
<line x1="878.40" y1="2371.60" x2="943.30" y2="2371.60" stroke="#5c5958" stroke-width="0.8" />
<line x1="878.40" y1="2349.30" x2="878.40" y2="2373.40" stroke="#5c5958" stroke-width="0.8" />
<line x1="900.70" y1="2349.30" x2="900.70" y2="2362.00" stroke="#5c5958" stroke-width="0.8" />
<line x1="921.50" y1="2349.30" x2="921.50" y2="2362.00" stroke="#5c5958" stroke-width="0.8" />
<line x1="943.30" y1="2349.30" x2="943.30" y2="2373.40" stroke="#5c5958" stroke-width="0.8" />
<text x="956.50" y="2340.90" font-size="10.6" fill="#403c3b" textLength="18.20" lengthAdjust="spacingAndGlyphs" transform="rotate(-90 956.50 2340.90)">0.10</text>
<text x="968.80" y="2342.10" font-size="10.6" fill="#403c3b" textLength="18.20" lengthAdjust="spacingAndGlyphs" transform="rotate(-90 968.80 2342.10)">3.10</text>
<line x1="955.20" y1="2316.60" x2="971.00" y2="2316.60" stroke="#5c5958" stroke-width="0.8" />
<line x1="944.00" y1="2349.30" x2="971.00" y2="2349.30" stroke="#5c5958" stroke-width="0.8" />
<line x1="958.40" y1="2310.60" x2="958.40" y2="2318.00" stroke="#5c5958" stroke-width="0.8" />
<line x1="970.20" y1="2316.60" x2="970.20" y2="2349.30" stroke="#5c5958" stroke-width="0.8" />
<path d="M981.4,2294.4 L981.4,2316.6 L1038.8,2316.6 L1038.8,2299.9" fill="none" stroke="#403c3b" stroke-width="1" />
<path d="M981.4,2294.4 Q990.0,2299.8 999.8,2297.8" fill="none" stroke="#403c3b" stroke-width="1" />
<path d="M1004.4,2296.4 Q1010.1,2293.8 1014.7,2295.6" fill="none" stroke="#403c3b" stroke-width="1" />
<path d="M1018.1,2298.0 Q1027.3,2307.4 1038.8,2299.9" fill="none" stroke="#403c3b" stroke-width="1" />
<rect x="1006.80" y="2316.60" width="5.30" height="32.70" fill="none" stroke="#403c3b" stroke-width="1" />
<text x="1016.00" y="2355.40" font-size="10.6" fill="#403c3b" textLength="17.90" lengthAdjust="spacingAndGlyphs">0.40</text>
<line x1="1002.40" y1="2356.60" x2="1034.00" y2="2356.60" stroke="#5c5958" stroke-width="0.8" />
<line x1="1006.80" y1="2349.30" x2="1006.80" y2="2359.00" stroke="#5c5958" stroke-width="0.8" />
<line x1="1012.10" y1="2349.30" x2="1012.10" y2="2359.00" stroke="#5c5958" stroke-width="0.8" />
<path d="M869.2,2394.6 L869.2,2416.7 L955.2,2416.7 L955.2,2400.1" fill="none" stroke="#403c3b" stroke-width="1" />
<path d="M869.2,2394.6 Q879.5,2401.6 886.4,2403.2" fill="none" stroke="#403c3b" stroke-width="1" />
<path d="M886.4,2403.2 Q895.0,2404.1 905.3,2399.0 Q920.8,2393.1 931.1,2401.0 Q938.0,2404.6 944.9,2403.2" fill="none" stroke="#403c3b" stroke-width="1" stroke-dasharray="7 5 24 5 7 5 30"/>
<path d="M943.2,2403.6 Q950.0,2403.0 955.2,2400.1" fill="none" stroke="#403c3b" stroke-width="1" />
<rect x="880.60" y="2416.70" width="6.40" height="1.60" fill="#403c3b" />
<rect x="905.00" y="2416.70" width="10.00" height="1.60" fill="#403c3b" />
<rect x="937.00" y="2416.70" width="6.00" height="1.60" fill="#403c3b" />
<path d="M882.6,2416.7 L882.6,2421.6 L880.4,2421.6 L880.4,2431.6 L882.9,2434.1 L898.2,2434.1 L900.7,2431.6 L900.7,2421.6 L893.8,2421.6 L893.8,2416.7" fill="none" stroke="#403c3b" stroke-width="1.1" />
<circle cx="891.00" cy="2428.00" r="2.90" fill="none" stroke="#403c3b" stroke-width="1" />
<path d="M930.2,2416.7 L930.2,2421.6 L923.2,2421.6 L923.2,2431.6 L925.7,2434.1 L940.8,2434.1 L943.3,2431.6 L943.3,2421.6 L941.2,2421.6 L941.2,2416.7" fill="none" stroke="#403c3b" stroke-width="1.1" />
<circle cx="933.40" cy="2428.00" r="2.90" fill="none" stroke="#403c3b" stroke-width="1" />
<line x1="886.00" y1="2428.00" x2="896.00" y2="2428.00" stroke="#5c5958" stroke-width="0.8" />
<text x="872.90" y="2436.50" font-size="10.6" fill="#403c3b" textLength="16.90" lengthAdjust="spacingAndGlyphs" transform="rotate(-90 872.90 2436.50)">1.20</text>
<line x1="873.00" y1="2421.60" x2="880.00" y2="2421.60" stroke="#5c5958" stroke-width="0.8" />
<line x1="873.00" y1="2434.10" x2="881.00" y2="2434.10" stroke="#5c5958" stroke-width="0.8" />
<line x1="875.40" y1="2421.60" x2="875.40" y2="2434.10" stroke="#5c5958" stroke-width="0.8" />
<text x="902.20" y="2425.60" font-size="10.6" fill="#403c3b" textLength="18.60" lengthAdjust="spacingAndGlyphs">ϕ0.6</text>
<line x1="894.00" y1="2427.60" x2="921.00" y2="2427.60" stroke="#5c5958" stroke-width="0.8" />
<text x="902.70" y="2438.90" font-size="10.6" fill="#403c3b" textLength="18.10" lengthAdjust="spacingAndGlyphs">2.10</text>
<line x1="900.70" y1="2440.60" x2="923.20" y2="2440.60" stroke="#5c5958" stroke-width="0.8" />
<text x="903.40" y="2450.60" font-size="10.6" fill="#403c3b" textLength="17.90" lengthAdjust="spacingAndGlyphs">6.10</text>
<line x1="880.40" y1="2452.40" x2="943.30" y2="2452.40" stroke="#5c5958" stroke-width="0.8" />
<line x1="880.40" y1="2434.10" x2="880.40" y2="2454.40" stroke="#5c5958" stroke-width="0.8" />
<line x1="900.70" y1="2434.10" x2="900.70" y2="2442.40" stroke="#5c5958" stroke-width="0.8" />
<line x1="923.20" y1="2434.10" x2="923.20" y2="2442.40" stroke="#5c5958" stroke-width="0.8" />
<line x1="943.30" y1="2434.10" x2="943.30" y2="2454.40" stroke="#5c5958" stroke-width="0.8" />
<text x="963.80" y="2413.50" font-size="10.6" fill="#403c3b" textLength="17.40" lengthAdjust="spacingAndGlyphs" transform="rotate(-90 963.80 2413.50)">0.10</text>
<text x="972.50" y="2434.10" font-size="10.6" fill="#403c3b" textLength="16.90" lengthAdjust="spacingAndGlyphs" transform="rotate(-90 972.50 2434.10)">1.75</text>
<line x1="955.20" y1="2416.70" x2="975.00" y2="2416.70" stroke="#5c5958" stroke-width="0.8" />
<line x1="944.00" y1="2434.10" x2="975.00" y2="2434.10" stroke="#5c5958" stroke-width="0.8" />
<line x1="964.40" y1="2411.00" x2="964.40" y2="2434.10" stroke="#5c5958" stroke-width="0.8" />
<path d="M980.6,2394.6 L980.6,2416.7 L1035.9,2416.7 L1035.9,2400.1" fill="none" stroke="#403c3b" stroke-width="1" />
<path d="M980.6,2394.6 Q988.9,2400.0 998.3,2398.0" fill="none" stroke="#403c3b" stroke-width="1" />
<path d="M1002.7,2396.6 Q1008.2,2394.0 1012.7,2395.8" fill="none" stroke="#403c3b" stroke-width="1" />
<path d="M1016.0,2398.2 Q1024.8,2407.6 1035.9,2400.1" fill="none" stroke="#403c3b" stroke-width="1" />
<rect x="1005.60" y="2416.70" width="4.80" height="17.40" fill="none" stroke="#403c3b" stroke-width="1" />
<text x="1014.00" y="2437.70" font-size="10.6" fill="#403c3b" textLength="17.00" lengthAdjust="spacingAndGlyphs">0.40</text>
<line x1="1001.00" y1="2439.40" x2="1031.40" y2="2439.40" stroke="#5c5958" stroke-width="0.8" />
<line x1="1005.60" y1="2434.10" x2="1005.60" y2="2442.00" stroke="#5c5958" stroke-width="0.8" />
<line x1="1010.40" y1="2434.10" x2="1010.40" y2="2442.00" stroke="#5c5958" stroke-width="0.8" />
<path d="M863.2,2479.4 L863.2,2501.7 L952.3,2501.7 L952.3,2484.9" fill="none" stroke="#403c3b" stroke-width="1" />
<path d="M863.2,2479.4 Q873.9,2486.4 881.0,2488.0" fill="none" stroke="#403c3b" stroke-width="1" />
<path d="M881.0,2488.0 Q889.9,2488.9 900.6,2483.8 Q916.7,2477.9 927.4,2485.8 Q934.5,2489.4 941.6,2488.0" fill="none" stroke="#403c3b" stroke-width="1" stroke-dasharray="7 5 24 5 7 5 30"/>
<path d="M939.8,2488.4 Q947.0,2487.8 952.3,2484.9" fill="none" stroke="#403c3b" stroke-width="1" />
<rect x="876.40" y="2501.70" width="5.60" height="1.60" fill="#403c3b" />
<rect x="901.00" y="2501.70" width="12.00" height="1.60" fill="#403c3b" />
<rect x="934.00" y="2501.70" width="6.00" height="1.60" fill="#403c3b" />
<path d="M879.6,2501.7 L879.6,2529 L881.2,2531 L881.2,2535 L885.3,2535 L885.3,2531 L886.9,2529 L886.9,2501.7 M879.6,2529 L886.9,2529" fill="none" stroke="#403c3b" stroke-width="1" />
<path d="M931.2,2501.7 L931.2,2529 L932.8000000000001,2531 L932.8000000000001,2535 L936.6999999999999,2535 L936.6999999999999,2531 L938.3,2529 L938.3,2501.7 M931.2,2529 L938.3,2529" fill="none" stroke="#403c3b" stroke-width="1" />
<text x="890.00" y="2518.60" font-size="10.6" fill="#403c3b" textLength="21.90" lengthAdjust="spacingAndGlyphs">2-0.6</text>
<line x1="876.00" y1="2519.80" x2="912.40" y2="2519.80" stroke="#5c5958" stroke-width="0.8" />
<line x1="883.20" y1="2514.00" x2="883.20" y2="2524.00" stroke="#5c5958" stroke-width="0.8" />
<text x="899.50" y="2541.10" font-size="10.6" fill="#403c3b" textLength="17.20" lengthAdjust="spacingAndGlyphs">5.10</text>
<line x1="883.20" y1="2544.30" x2="934.60" y2="2544.30" stroke="#5c5958" stroke-width="0.8" />
<line x1="883.20" y1="2535.00" x2="883.20" y2="2546.00" stroke="#5c5958" stroke-width="0.8" />
<line x1="934.60" y1="2535.00" x2="934.60" y2="2546.00" stroke="#5c5958" stroke-width="0.8" />
<text x="958.40" y="2525.40" font-size="10.6" fill="#403c3b" textLength="18.20" lengthAdjust="spacingAndGlyphs" transform="rotate(-90 958.40 2525.40)">0.10</text>
<text x="970.50" y="2527.80" font-size="10.6" fill="#403c3b" textLength="18.20" lengthAdjust="spacingAndGlyphs" transform="rotate(-90 970.50 2527.80)">2.60</text>
<line x1="952.30" y1="2501.70" x2="973.00" y2="2501.70" stroke="#5c5958" stroke-width="0.8" />
<line x1="939.00" y1="2535.00" x2="973.00" y2="2535.00" stroke="#5c5958" stroke-width="0.8" />
<line x1="959.60" y1="2496.00" x2="959.60" y2="2504.00" stroke="#5c5958" stroke-width="0.8" />
<line x1="971.80" y1="2501.70" x2="971.80" y2="2535.00" stroke="#5c5958" stroke-width="0.8" />
<path d="M978.2,2479.4 L978.2,2501.7 L1035.9,2501.7 L1035.9,2484.9" fill="none" stroke="#403c3b" stroke-width="1" />
<path d="M978.2,2479.4 Q986.9,2484.8 996.7,2482.8" fill="none" stroke="#403c3b" stroke-width="1" />
<path d="M1001.3,2481.4 Q1007.1,2478.8 1011.7,2480.6" fill="none" stroke="#403c3b" stroke-width="1" />
<path d="M1015.1,2483.0 Q1024.4,2492.4 1035.9,2484.9" fill="none" stroke="#403c3b" stroke-width="1" />
<rect x="1004.90" y="2501.70" width="4.30" height="33.30" fill="none" stroke="#403c3b" stroke-width="1" />
<text x="1014.00" y="2540.40" font-size="10.6" fill="#403c3b" textLength="17.50" lengthAdjust="spacingAndGlyphs">0.40</text>
<line x1="1000.00" y1="2541.80" x2="1031.80" y2="2541.80" stroke="#5c5958" stroke-width="0.8" />
<line x1="1004.90" y1="2535.00" x2="1004.90" y2="2544.40" stroke="#5c5958" stroke-width="0.8" />
<line x1="1009.20" y1="2535.00" x2="1009.20" y2="2544.40" stroke="#5c5958" stroke-width="0.8" />
<path d="M862.2,2573.3 L862.2,2593.9 L941.9,2593.9 L941.9,2578.8" fill="none" stroke="#403c3b" stroke-width="1" />
<path d="M862.2,2573.3 Q871.8,2580.3 878.1,2581.9" fill="none" stroke="#403c3b" stroke-width="1" />
<path d="M878.1,2581.9 Q886.1,2582.8 895.7,2577.7 Q910.0,2571.8 919.6,2579.7 Q926.0,2583.3 932.3,2581.9" fill="none" stroke="#403c3b" stroke-width="1" stroke-dasharray="7 5 24 5 7 5 30"/>
<path d="M930.7,2582.3 Q937.1,2581.7 941.9,2578.8" fill="none" stroke="#403c3b" stroke-width="1" />
<rect x="872.00" y="2593.90" width="6.00" height="1.60" fill="#403c3b" />
<rect x="895.00" y="2593.90" width="14.00" height="1.60" fill="#403c3b" />
<rect x="926.00" y="2593.90" width="6.00" height="1.60" fill="#403c3b" />
<rect x="874.80" y="2593.90" width="12.10" height="14.60" fill="none" stroke="#403c3b" stroke-width="1" />
<line x1="874.80" y1="2604.60" x2="886.90" y2="2604.60" stroke="#403c3b" stroke-width="0.8" />
<rect x="879.40" y="2608.50" width="4.60" height="3.60" fill="none" stroke="#403c3b" stroke-width="0.9" />
<rect x="917.70" y="2593.90" width="12.10" height="14.60" fill="none" stroke="#403c3b" stroke-width="1" />
<line x1="917.70" y1="2604.60" x2="929.80" y2="2604.60" stroke="#403c3b" stroke-width="0.8" />
<rect x="919.10" y="2608.50" width="4.60" height="3.60" fill="none" stroke="#403c3b" stroke-width="0.9" />
<text x="893.50" y="2602.90" font-size="10.6" fill="#403c3b" textLength="16.90" lengthAdjust="spacingAndGlyphs">2.30</text>
<text x="893.50" y="2612.10" font-size="10.6" fill="#403c3b" textLength="16.90" lengthAdjust="spacingAndGlyphs">4.50</text>
<text x="893.50" y="2621.00" font-size="10.6" fill="#403c3b" textLength="16.90" lengthAdjust="spacingAndGlyphs">5.10</text>
<text x="893.50" y="2630.00" font-size="10.6" fill="#403c3b" textLength="16.90" lengthAdjust="spacingAndGlyphs">5.70</text>
<line x1="886.90" y1="2604.40" x2="917.70" y2="2604.40" stroke="#5c5958" stroke-width="0.8" />
<line x1="881.00" y1="2613.60" x2="923.60" y2="2613.60" stroke="#5c5958" stroke-width="0.8" />
<line x1="877.60" y1="2622.60" x2="927.00" y2="2622.60" stroke="#5c5958" stroke-width="0.8" />
<line x1="874.80" y1="2631.60" x2="929.80" y2="2631.60" stroke="#5c5958" stroke-width="0.8" />
<line x1="874.80" y1="2608.50" x2="874.80" y2="2633.40" stroke="#5c5958" stroke-width="0.8" />
<line x1="929.80" y1="2608.50" x2="929.80" y2="2633.40" stroke="#5c5958" stroke-width="0.8" />
<line x1="877.60" y1="2612.00" x2="877.60" y2="2624.00" stroke="#5c5958" stroke-width="0.8" />
<line x1="927.00" y1="2612.00" x2="927.00" y2="2624.00" stroke="#5c5958" stroke-width="0.8" />
<text x="950.40" y="2590.80" font-size="10.6" fill="#403c3b" textLength="16.50" lengthAdjust="spacingAndGlyphs" transform="rotate(-90 950.40 2590.80)">0.10</text>
<text x="957.20" y="2609.00" font-size="10.6" fill="#403c3b" textLength="12.20" lengthAdjust="spacingAndGlyphs" transform="rotate(-90 957.20 2609.00)">2.0</text>
<line x1="941.90" y1="2593.90" x2="960.00" y2="2593.90" stroke="#5c5958" stroke-width="0.8" />
<line x1="931.00" y1="2612.20" x2="960.00" y2="2612.20" stroke="#5c5958" stroke-width="0.8" />
<line x1="957.80" y1="2593.90" x2="957.80" y2="2612.20" stroke="#5c5958" stroke-width="0.8" />
<line x1="950.60" y1="2588.00" x2="950.60" y2="2595.00" stroke="#5c5958" stroke-width="0.8" />
<path d="M963.2,2573.3 L963.2,2593.9 L1012.9,2593.9 L1012.9,2578.8" fill="none" stroke="#403c3b" stroke-width="1" />
<path d="M963.2,2573.3 Q970.7,2578.7 979.1,2576.7" fill="none" stroke="#403c3b" stroke-width="1" />
<path d="M983.1,2575.3 Q988.0,2572.7 992.0,2574.5" fill="none" stroke="#403c3b" stroke-width="1" />
<path d="M995.0,2576.9 Q1003.0,2586.3 1012.9,2578.8" fill="none" stroke="#403c3b" stroke-width="1" />
<path d="M988.4,2593.9 L988.4,2606 Q988.4,2610.9 993.4,2611.1 L1038.3,2612.6 L1038.3,2609.6 L994.4,2608.1 Q991.4,2608 991.4,2605 L991.4,2593.9" fill="none" stroke="#403c3b" stroke-width="1" />
<text x="1019.40" y="2587.90" font-size="10.6" fill="#403c3b" textLength="16.50" lengthAdjust="spacingAndGlyphs">2.60</text>
<line x1="1012.90" y1="2589.60" x2="1040.60" y2="2589.60" stroke="#5c5958" stroke-width="0.8" />
<line x1="1039.60" y1="2589.60" x2="1039.60" y2="2626.00" stroke="#5c5958" stroke-width="0.8" />
<text x="1004.90" y="2621.80" font-size="10.6" fill="#403c3b" textLength="16.40" lengthAdjust="spacingAndGlyphs">5.45</text>
<line x1="987.40" y1="2624.70" x2="1039.60" y2="2624.70" stroke="#5c5958" stroke-width="0.8" />
<line x1="987.40" y1="2612.00" x2="987.40" y2="2626.40" stroke="#5c5958" stroke-width="0.8" />
<text x="52.40" y="2861.00" font-size="15" fill="#3e3a39">*</text>
<text x="65.00" y="2860.40" font-size="15.2" fill="#3e3a39" letter-spacing="1.0">更多的压杆，端子及其他附件请联系我们</text>
<text transform="translate(369.60 2860.20) scale(1.0 1)" font-size="13.6" fill="#3e3a39" textLength="491.80" lengthAdjust="spacing">For more lever, terminal, mounting holes options, please contact us.</text>
</g>
</svg>
</body>
</html>
